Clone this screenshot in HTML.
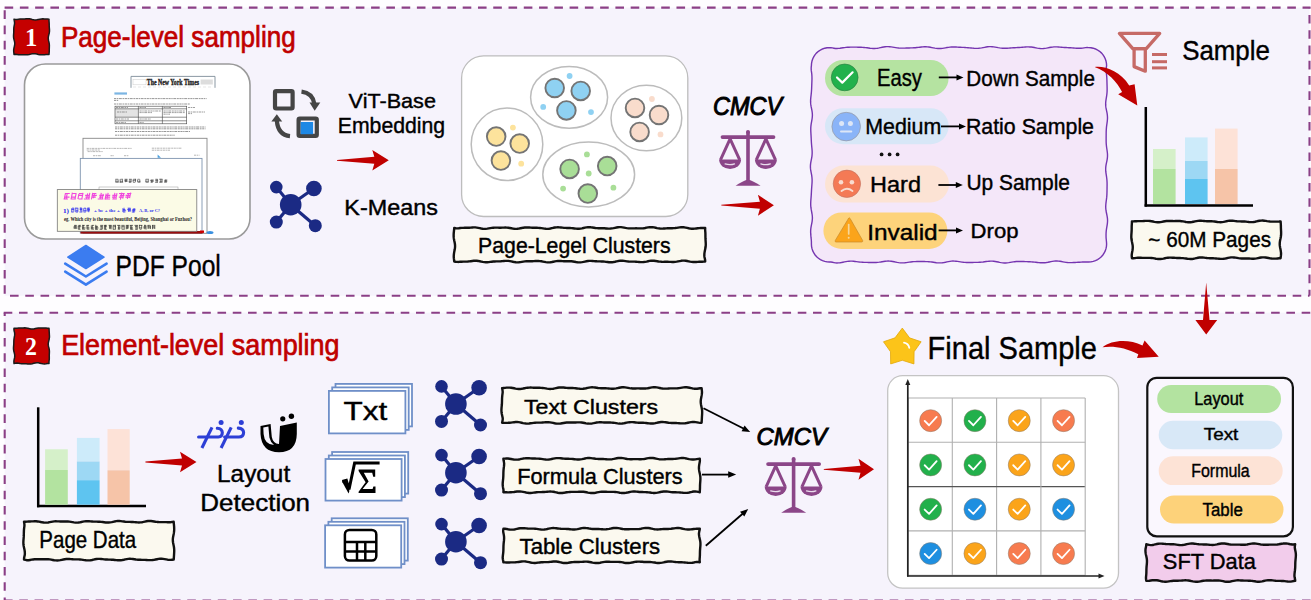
<!DOCTYPE html>
<html><head><meta charset="utf-8"><style>
html,body{margin:0;padding:0;background:#fcfbfe;}
body{width:1311px;height:600px;overflow:hidden;font-family:"Liberation Sans",sans-serif;}
svg{display:block;}
</style></head><body>
<svg width="1311" height="600" viewBox="0 0 1311 600">
<rect width="1311" height="600" fill="#fefdff"/>
<rect x="4.7" y="7.6" width="1304.8" height="288.1" fill="#f6f3fc"/>
<rect x="4.7" y="312.7" width="1310" height="290" fill="#f6f3fc"/>
<line x1="3.7" y1="7.6" x2="1310.5" y2="7.6" stroke="#8b3f86" stroke-width="2.1" stroke-dasharray="8.6 6.67" stroke-dashoffset="14.37"/>
<line x1="4.7" y1="7.6" x2="4.7" y2="295.7" stroke="#8b3f86" stroke-width="2.1" stroke-dasharray="8.6 6.67" stroke-dashoffset="12.57"/>
<line x1="1309.5" y1="7.6" x2="1309.5" y2="295.7" stroke="#8b3f86" stroke-width="2.1" stroke-dasharray="8.6 6.67" stroke-dashoffset="7.87"/>
<line x1="4.7" y1="295.7" x2="1309.5" y2="295.7" stroke="#8b3f86" stroke-width="2.1" stroke-dasharray="8.6 6.67" stroke-dashoffset="9.97"/>
<line x1="3.7" y1="312.7" x2="1311" y2="312.7" stroke="#8b3f86" stroke-width="2.1" stroke-dasharray="8.6 6.67" stroke-dashoffset="0.00"/>
<line x1="4.7" y1="312.7" x2="4.7" y2="600" stroke="#8b3f86" stroke-width="2.1" stroke-dasharray="8.6 6.67" stroke-dashoffset="5.30"/>
<line x1="3.7" y1="600.5" x2="1311" y2="600.5" stroke="#8b3f86" stroke-width="2.1" stroke-dasharray="8.6 6.67" stroke-dashoffset="14.97"/>
<path d="M14.00,19.20 L15.52,19.40 L17.04,19.39 L18.57,19.20 L20.09,19.06 L21.61,19.03 L23.13,19.01 L24.65,18.92 L26.17,18.77 L27.70,18.67 L29.22,18.74 L30.74,19.02 L32.26,19.43 L33.78,19.80 L35.30,19.96 L36.83,19.85 L38.35,19.53 L39.87,19.18 L41.39,18.94 L42.91,18.86 L44.43,18.89 L45.96,18.99 L47.48,19.08 L49.00,19.20 L48.98,20.73 L49.11,22.26 L49.20,23.79 L49.21,25.32 L49.25,26.85 L49.37,28.38 L49.48,29.91 L49.47,31.44 L49.26,32.97 L48.88,34.50 L48.49,36.03 L48.25,37.57 L48.29,39.10 L48.57,40.63 L48.95,42.16 L49.24,43.69 L49.37,45.22 L49.35,46.75 L49.29,48.28 L49.28,49.81 L49.25,51.34 L49.13,52.87 L49.00,54.40 L47.48,54.50 L45.96,54.59 L44.43,54.69 L42.91,54.79 L41.39,54.85 L39.87,54.77 L38.35,54.49 L36.83,54.10 L35.30,53.76 L33.78,53.63 L32.26,53.78 L30.74,54.13 L29.22,54.51 L27.70,54.76 L26.17,54.82 L24.65,54.76 L23.13,54.68 L21.61,54.67 L20.09,54.69 L18.57,54.66 L17.04,54.47 L15.52,54.32 L14.00,54.40 L13.87,52.87 L13.70,51.34 L13.67,49.81 L13.91,48.28 L14.28,46.75 L14.62,45.22 L14.77,43.69 L14.64,42.16 L14.28,40.63 L13.88,39.10 L13.60,37.57 L13.52,36.03 L13.59,34.50 L13.71,32.97 L13.77,31.44 L13.77,29.91 L13.80,28.38 L13.95,26.85 L14.23,25.32 L14.54,23.79 L14.55,22.26 L14.25,20.73 Z" fill="#c50000" stroke="#1a1a1a" stroke-width="1.5" stroke-linejoin="round"/>
<text x="24.93" y="46.30" font-family="Liberation Serif" font-weight="bold" font-size="24.17" fill="#fff" textLength="12.30" lengthAdjust="spacingAndGlyphs" >1</text>
<path d="M14.00,328.30 L15.52,328.28 L17.04,328.16 L18.57,328.09 L20.09,328.08 L21.61,328.01 L23.13,327.89 L24.65,327.81 L26.17,327.89 L27.70,328.16 L29.22,328.57 L30.74,328.92 L32.26,329.07 L33.78,328.93 L35.30,328.60 L36.83,328.24 L38.35,327.99 L39.87,327.92 L41.39,327.96 L42.91,328.02 L44.43,328.01 L45.96,328.05 L47.48,328.18 L49.00,328.30 L49.10,329.83 L49.19,331.36 L49.27,332.89 L49.35,334.42 L49.45,335.95 L49.43,337.48 L49.22,339.01 L48.85,340.54 L48.46,342.07 L48.24,343.60 L48.30,345.13 L48.60,346.67 L48.98,348.20 L49.29,349.73 L49.41,351.26 L49.38,352.79 L49.30,354.32 L49.27,355.85 L49.29,357.38 L49.29,358.91 L49.13,360.44 L48.96,361.97 L49.00,363.50 L47.48,363.61 L45.96,363.78 L44.43,363.91 L42.91,363.82 L41.39,363.55 L39.87,363.17 L38.35,362.84 L36.83,362.73 L35.30,362.90 L33.78,363.26 L32.26,363.65 L30.74,363.91 L29.22,363.96 L27.70,363.88 L26.17,363.78 L24.65,363.74 L23.13,363.74 L21.61,363.71 L20.09,363.55 L18.57,363.26 L17.04,363.08 L15.52,363.22 L14.00,363.50 L13.89,361.97 L13.96,360.44 L14.30,358.91 L14.63,357.38 L14.76,355.85 L14.62,354.32 L14.25,352.79 L13.84,351.26 L13.56,349.73 L13.48,348.20 L13.58,346.67 L13.71,345.13 L13.80,343.60 L13.82,342.07 L13.85,340.54 L13.99,339.01 L14.25,337.48 L14.54,335.95 L14.71,334.42 L14.63,332.89 L14.23,331.36 L13.95,329.83 Z" fill="#c50000" stroke="#1a1a1a" stroke-width="1.5" stroke-linejoin="round"/>
<text x="24.95" y="355.00" font-family="Liberation Serif" font-weight="bold" font-size="24.17" fill="#fff" textLength="11.90" lengthAdjust="spacingAndGlyphs" >2</text>
<text x="60.91" y="47.00" font-family="Liberation Sans" font-weight="normal" font-size="29.36" fill="#c00000" textLength="234.79" lengthAdjust="spacingAndGlyphs"  stroke="#c00000" stroke-width="0.7">Page-level sampling</text>
<text x="61.15" y="355.20" font-family="Liberation Sans" font-weight="normal" font-size="28.92" fill="#c00000" textLength="278.39" lengthAdjust="spacingAndGlyphs"  stroke="#c00000" stroke-width="0.7">Element-level sampling</text>
<rect x="24.5" y="64" width="225.5" height="175" rx="21" fill="#fff" stroke="#9a9a9a" stroke-width="1.6"/>
<path d="M131,87.8 L131,76.4 L215,76.4 L215,87.8" fill="#fff" stroke="#7d8c99" stroke-width="0.9"/>
<rect x="133" y="79.4" width="13" height="5.4" fill="none" stroke="#ccc" stroke-width="0.5"/>
<text x="146.8" y="84.9" font-family="Liberation Serif" font-weight="bold" font-size="8" fill="#222" textLength="52.2" lengthAdjust="spacingAndGlyphs" stroke="#222" stroke-width="0.35">The New York Times</text>
<rect x="200.6" y="79.5" width="12.2" height="5" fill="#ddd"/>
<line x1="133" y1="87" x2="213" y2="87" stroke="#ccc" stroke-width="0.5" stroke-dasharray="3 2"/>
<rect x="114.4" y="92.4" width="12.6" height="2.2" fill="#5aa2dc" opacity="0.8"/>
<line x1="114" y1="98.6" x2="206.6" y2="98.6" stroke="#8a8a8a" stroke-width="0.9" stroke-dasharray="2.2 0.6 1.4 0.6 3 0.7 1.8 0.6"/>
<line x1="114" y1="100.4" x2="118.5" y2="100.4" stroke="#8a8a8a" stroke-width="0.9" stroke-dasharray="2.2 0.6 1.4 0.6 3 0.7 1.8 0.6"/>
<line x1="114" y1="104" x2="190" y2="104" stroke="#8a8a8a" stroke-width="0.9" stroke-dasharray="2.2 0.6 1.4 0.6 3 0.7 1.8 0.6"/>
<rect x="115" y="108.8" width="23.4" height="8.4" fill="#e4e4e4"/>
<g stroke="#444" stroke-width="0.6" fill="none">
<rect x="115" y="106.2" width="71.7" height="17.6"/>
<line x1="115" y1="108.8" x2="186.7" y2="108.8"/>
<line x1="115" y1="117.2" x2="186.7" y2="117.2"/>
<line x1="115" y1="120.8" x2="186.7" y2="120.8"/>
<line x1="138.4" y1="106.2" x2="138.4" y2="123.8"/>
<line x1="162.4" y1="106.2" x2="162.4" y2="123.8"/>
</g>
<line x1="116" y1="107.5" x2="128" y2="107.5" stroke="#777" stroke-width="0.7" stroke-dasharray="2.2 0.6 1.4 0.6 3 0.7 1.8 0.6"/>
<line x1="139.5" y1="107.5" x2="146" y2="107.5" stroke="#777" stroke-width="0.7" stroke-dasharray="2.2 0.6 1.4 0.6 3 0.7 1.8 0.6"/>
<line x1="163.5" y1="107.5" x2="171" y2="107.5" stroke="#777" stroke-width="0.7" stroke-dasharray="2.2 0.6 1.4 0.6 3 0.7 1.8 0.6"/>
<line x1="188" y1="107.5" x2="195" y2="107.5" stroke="#777" stroke-width="0.7" stroke-dasharray="2.2 0.6 1.4 0.6 3 0.7 1.8 0.6"/>
<line x1="139.5" y1="111" x2="161" y2="111" stroke="#777" stroke-width="0.7" stroke-dasharray="2.2 0.6 1.4 0.6 3 0.7 1.8 0.6"/>
<line x1="139.5" y1="112.6" x2="152" y2="112.6" stroke="#777" stroke-width="0.7" stroke-dasharray="2.2 0.6 1.4 0.6 3 0.7 1.8 0.6"/>
<line x1="163.5" y1="111" x2="185" y2="111" stroke="#777" stroke-width="0.7" stroke-dasharray="2.2 0.6 1.4 0.6 3 0.7 1.8 0.6"/>
<line x1="163.5" y1="112.6" x2="185" y2="112.6" stroke="#777" stroke-width="0.7" stroke-dasharray="2.2 0.6 1.4 0.6 3 0.7 1.8 0.6"/>
<line x1="163.5" y1="114.2" x2="170" y2="114.2" stroke="#777" stroke-width="0.7" stroke-dasharray="2.2 0.6 1.4 0.6 3 0.7 1.8 0.6"/>
<line x1="117" y1="112" x2="127" y2="112" stroke="#777" stroke-width="0.7" stroke-dasharray="2.2 0.6 1.4 0.6 3 0.7 1.8 0.6"/>
<line x1="188" y1="112" x2="205" y2="112" stroke="#777" stroke-width="0.7" stroke-dasharray="2.2 0.6 1.4 0.6 3 0.7 1.8 0.6"/>
<line x1="188" y1="113.6" x2="192" y2="113.6" stroke="#777" stroke-width="0.7" stroke-dasharray="2.2 0.6 1.4 0.6 3 0.7 1.8 0.6"/>
<line x1="116" y1="119" x2="129" y2="119" stroke="#777" stroke-width="0.7" stroke-dasharray="2.2 0.6 1.4 0.6 3 0.7 1.8 0.6"/>
<line x1="139.5" y1="119" x2="151" y2="119" stroke="#777" stroke-width="0.7" stroke-dasharray="2.2 0.6 1.4 0.6 3 0.7 1.8 0.6"/>
<line x1="116" y1="122.4" x2="126" y2="122.4" stroke="#777" stroke-width="0.7" stroke-dasharray="2.2 0.6 1.4 0.6 3 0.7 1.8 0.6"/>
<line x1="139.5" y1="122.4" x2="144" y2="122.4" stroke="#777" stroke-width="0.7" stroke-dasharray="2.2 0.6 1.4 0.6 3 0.7 1.8 0.6"/>
<line x1="115" y1="127" x2="205.5" y2="127" stroke="#8a8a8a" stroke-width="0.9" stroke-dasharray="2.2 0.6 1.4 0.6 3 0.7 1.8 0.6"/>
<line x1="115" y1="128.8" x2="205.5" y2="128.8" stroke="#8a8a8a" stroke-width="0.9" stroke-dasharray="2.2 0.6 1.4 0.6 3 0.7 1.8 0.6"/>
<line x1="115" y1="131.5" x2="190" y2="131.5" stroke="#8a8a8a" stroke-width="0.9" stroke-dasharray="2.2 0.6 1.4 0.6 3 0.7 1.8 0.6"/>
<line x1="115" y1="135.2" x2="175" y2="135.2" stroke="#8a8a8a" stroke-width="0.9" stroke-dasharray="2.2 0.6 1.4 0.6 3 0.7 1.8 0.6"/>
<rect x="83" y="138.3" width="124" height="95" fill="#fff" stroke="#888" stroke-width="0.9"/>
<line x1="86.7" y1="148.4" x2="131.6" y2="148.4" stroke="#999" stroke-width="0.7" stroke-dasharray="2.2 0.6 1.4 0.6 3 0.7 1.8 0.6"/>
<line x1="86.7" y1="150" x2="100" y2="150" stroke="#999" stroke-width="0.7" stroke-dasharray="2.2 0.6 1.4 0.6 3 0.7 1.8 0.6"/>
<line x1="151.8" y1="148.2" x2="182" y2="148.2" stroke="#999" stroke-width="0.7" stroke-dasharray="2.2 0.6 1.4 0.6 3 0.7 1.8 0.6"/>
<line x1="87.6" y1="151.6" x2="103" y2="151.6" stroke="#999" stroke-width="0.7" stroke-dasharray="2.2 0.6 1.4 0.6 3 0.7 1.8 0.6"/>
<line x1="93" y1="155.7" x2="101" y2="155.7" stroke="#999" stroke-width="0.7" stroke-dasharray="2.2 0.6 1.4 0.6 3 0.7 1.8 0.6"/>
<line x1="110.5" y1="155.7" x2="114" y2="155.7" stroke="#999" stroke-width="0.7" stroke-dasharray="2.2 0.6 1.4 0.6 3 0.7 1.8 0.6"/>
<line x1="124" y1="155.7" x2="129" y2="155.7" stroke="#999" stroke-width="0.7" stroke-dasharray="2.2 0.6 1.4 0.6 3 0.7 1.8 0.6"/>
<line x1="194" y1="155.2" x2="199.5" y2="155.2" stroke="#999" stroke-width="0.7" stroke-dasharray="2.2 0.6 1.4 0.6 3 0.7 1.8 0.6"/>
<line x1="151.8" y1="150.2" x2="170" y2="150.2" stroke="#999" stroke-width="0.7" stroke-dasharray="2.2 0.6 1.4 0.6 3 0.7 1.8 0.6"/>
<path d="M157.6,154.6 L157.6,157.8 L161,157.8 Z" fill="#4aa0e0"/>
<rect x="80.3" y="158.4" width="121.7" height="74.5" fill="#fff" stroke="#7f95b0" stroke-width="0.9"/>
<path d="M115.38,179.26L118.23,179.26M115.40,182.30L118.62,182.30M115.43,181.27L118.45,181.27M115.83,179.49L115.83,181.89M118.13,179.44L118.13,182.13M120.02,181.27L122.83,181.27M120.44,179.26L123.03,179.26M119.78,182.30L123.14,182.30M122.46,179.47L122.46,182.05M120.16,179.12L120.16,182.54M124.51,181.27L127.40,181.27M124.27,180.32L127.20,180.32M124.53,179.26L127.48,179.26M125.56,179.46L125.56,182.18M126.79,179.21L126.79,182.01M128.84,182.30L131.36,182.30M128.60,181.27L131.36,181.27M128.92,179.26L131.78,179.26M129.89,179.22L129.89,182.54M131.13,179.33L131.13,181.91M133.19,179.26L136.08,179.26M132.93,182.30L135.29,182.30M132.84,180.32L136.06,180.32M133.16,179.52L133.16,182.00M135.46,178.92L135.46,182.04M137.73,181.27L140.41,181.27M137.68,179.26L139.67,179.26M137.64,182.30L140.37,182.30M139.79,179.41L139.79,182.06M137.50,179.55L137.50,181.86" stroke="#333" stroke-width="0.7" opacity="0.85" fill="none"/>
<path d="M145.65,182.30L148.30,182.30M145.54,181.27L148.40,181.27M146.13,179.26L148.96,179.26M148.34,179.55L148.34,182.43M145.87,178.89L145.87,182.00M150.70,181.27L153.38,181.27M150.64,182.30L152.83,182.30M149.92,180.32L153.35,180.32M151.61,179.45L151.61,182.35M152.94,179.27L152.94,181.97M155.10,182.30L157.75,182.30M155.33,179.26L157.63,179.26M155.27,180.32L158.10,180.32M157.54,179.26L157.54,182.56M156.21,179.54L156.21,182.33M159.10,179.26L162.36,179.26M159.21,182.30L162.60,182.30M159.64,181.27L162.22,181.27M162.14,178.91L162.14,181.87M160.81,178.81L160.81,182.48M164.16,182.30L166.81,182.30M164.30,180.32L166.65,180.32M164.05,181.27L166.80,181.27M166.74,179.38L166.74,182.12M165.41,179.35L165.41,182.04" stroke="#333" stroke-width="0.7" opacity="0.85" fill="none"/>
<rect x="99" y="187" width="79" height="4" fill="none" stroke="#999" stroke-width="0.5"/>
<rect x="80.5" y="231" width="122" height="2.6" fill="#9a0d0d"/>
<rect x="200" y="230.5" width="4" height="2.4" fill="#c00"/>
<ellipse cx="210" cy="232.5" rx="3.5" ry="1.6" fill="#3a90e0"/>
<rect x="57.3" y="189.6" width="139.5" height="41.7" fill="#fbfbe6" stroke="#777" stroke-width="0.8"/>
<path d="M65.59,193.44L69.76,193.44M63.61,199.04L67.95,199.04M64.11,197.15L69.47,197.15M67.26,193.30L66.18,198.72M65.50,193.12L64.39,198.66M72.49,193.44L76.58,193.44M70.60,199.04L75.81,199.04M71.37,197.15L75.33,197.15M72.39,192.64L71.16,198.81M76.06,193.81L74.98,199.22M78.47,199.04L82.59,199.04M78.02,195.40L83.02,195.40M78.97,193.44L83.02,193.44M83.05,192.83L81.87,198.74M78.93,193.96L77.92,198.99M85.18,195.40L89.18,195.40M83.87,199.04L89.75,199.04M85.39,197.15L89.91,197.15M87.65,193.34L86.50,199.10M89.83,192.94L88.65,198.84M92.75,195.40L96.82,195.40M92.07,197.15L95.78,197.15M92.49,193.44L96.38,193.44M94.47,193.27L93.47,198.24M92.73,192.97L91.46,199.31M99.16,197.15L103.00,197.15M97.78,199.04L103.33,199.04M99.35,195.40L103.93,195.40M101.32,192.98L100.19,198.63M103.26,193.81L102.19,199.13M106.03,195.40L110.17,195.40M105.23,197.15L110.08,197.15M105.12,199.04L110.08,199.04M108.13,192.97L107.04,198.38M106.19,193.63L105.01,199.54M112.33,199.04L116.79,199.04M112.34,195.40L117.21,195.40M111.98,197.15L115.99,197.15M117.00,193.10L115.94,198.40M114.92,192.98L113.77,198.77M118.87,197.15L123.70,197.15M119.84,195.40L124.37,195.40M119.01,193.44L124.67,193.44M121.79,192.63L120.42,199.52M123.74,193.42L122.71,198.53M127.04,193.44L131.34,193.44M125.62,195.40L130.32,195.40M125.34,197.15L129.71,197.15M130.69,192.66L129.58,198.20M128.36,193.78L127.36,198.79" stroke="#ee33dd" stroke-width="1.1" opacity="0.9" fill="none"/>
<text x="63" y="212.5" font-family="Liberation Serif" font-weight="bold" font-size="5.2" fill="#2222ee" textLength="6" lengthAdjust="spacingAndGlyphs">1)</text>
<path d="M71.42,212.02L73.75,212.02M71.46,209.52L73.98,209.52M72.00,208.18L74.18,208.18M73.86,208.31L73.86,211.71M71.78,208.13L71.78,212.19M75.81,212.02L78.01,212.02M75.39,208.18L78.23,208.18M75.81,210.72L77.91,210.72M75.78,207.65L75.78,212.11M77.86,208.28L77.86,211.81M79.70,209.52L82.03,209.52M79.66,208.18L81.90,208.18M79.43,212.02L82.38,212.02M80.74,207.64L80.74,211.45M81.86,207.94L81.86,211.73M83.51,212.02L85.80,212.02M83.86,208.18L85.89,208.18M83.61,210.72L86.50,210.72M83.78,208.24L83.78,211.48M85.86,208.05L85.86,211.59M87.39,209.52L90.03,209.52M87.86,210.72L89.85,210.72M87.39,208.18L89.91,208.18M87.78,207.83L87.78,211.55M88.74,207.75L88.74,212.22" stroke="#3333ee" stroke-width="0.9" opacity="0.9" fill="none"/>
<text x="94" y="212.3" font-family="Liberation Serif" font-weight="bold" font-size="5" fill="#3333ee" textLength="26" lengthAdjust="spacingAndGlyphs">+ be + the +</text>
<path d="M122.92,212.02L125.38,212.02M123.00,209.52L125.39,209.52M123.15,210.72L126.08,210.72M122.88,208.27L122.88,211.93M124.04,207.75L124.04,211.59M127.25,209.52L130.74,209.52M127.85,210.72L130.74,210.72M127.67,208.18L130.54,208.18M128.71,208.30L128.71,211.95M130.06,208.01L130.06,211.75M131.83,212.02L134.77,212.02M132.39,209.52L135.34,209.52M131.84,210.72L135.12,210.72M133.37,208.34L133.37,212.34M134.73,208.09L134.73,211.53" stroke="#3333ee" stroke-width="0.9" opacity="0.9" fill="none"/>
<text x="139" y="212.3" font-family="Liberation Serif" font-weight="bold" font-size="5" fill="#3333ee" textLength="21" lengthAdjust="spacingAndGlyphs">A, B, or C?</text>
<text x="64" y="221.3" font-family="Liberation Serif" font-weight="bold" font-size="5.2" fill="#222" textLength="128" lengthAdjust="spacingAndGlyphs">eg.  Which city is the most beautiful, Beijing, Shanghai or Fuzhou?</text>
<path d="M73.31,227.92L76.54,227.92M74.11,225.38L76.39,225.38M73.57,226.72L76.37,226.72M74.91,225.31L74.91,229.01M76.15,224.93L76.15,229.02M78.34,226.72L81.19,226.72M78.44,225.38L80.95,225.38M78.11,229.22L80.59,229.22M78.20,225.66L78.20,229.07M79.27,225.10L79.27,229.22M82.46,229.22L85.13,229.22M82.65,225.38L84.76,225.38M82.18,227.92L85.53,227.92M83.64,225.03L83.64,228.72M82.57,224.86L82.57,229.43M86.60,225.38L89.10,225.38M86.81,227.92L89.47,227.92M86.77,229.22L89.40,229.22M88.01,225.19L88.01,228.85M86.94,225.03L86.94,228.80M91.65,225.38L94.10,225.38M91.00,227.92L94.22,227.92M91.52,229.22L93.98,229.22M91.31,225.55L91.31,229.36M92.38,225.27L92.38,228.83M95.27,227.92L98.55,227.92M95.32,226.72L98.03,226.72M95.22,229.22L98.10,229.22M96.75,225.54L96.75,229.55M95.68,224.81L95.68,229.51M100.31,226.72L102.26,226.72M100.20,225.38L103.07,225.38M99.61,229.22L102.22,229.22M102.37,225.69L102.37,229.32M101.12,225.65L101.12,229.57M104.47,226.72L107.01,226.72M104.58,229.22L106.93,229.22M103.91,225.38L106.93,225.38M105.48,224.91L105.48,229.45M104.41,225.37L104.41,229.50M108.95,226.72L111.47,226.72M108.61,225.38L111.49,225.38M108.94,227.92L111.06,227.92M111.10,224.97L111.10,229.30M109.85,224.96L109.85,229.11M112.93,229.22L115.47,229.22M112.91,225.38L115.44,225.38M113.41,226.72L116.01,226.72M113.15,225.47L113.15,229.42M115.47,224.80L115.47,229.43M117.12,225.38L120.15,225.38M117.78,229.22L120.01,229.22M117.78,227.92L119.86,227.92M118.59,225.29L118.59,229.05M119.84,225.29L119.84,228.94M121.92,226.72L124.20,226.72M121.69,229.22L124.79,229.22M121.45,225.38L124.49,225.38M121.89,225.68L121.89,228.81M124.21,225.61L124.21,228.82M126.58,226.72L129.08,226.72M125.89,225.38L129.28,225.38M126.24,227.92L128.99,227.92M126.26,225.57L126.26,229.31M127.33,224.98L127.33,229.10M130.42,229.22L133.23,229.22M130.21,225.38L132.98,225.38M130.17,227.92L132.99,227.92M131.70,225.46L131.70,229.43M130.62,225.02L130.62,229.51M135.24,229.22L137.47,229.22M135.06,226.72L137.30,226.72M134.49,225.38L137.83,225.38M137.31,225.29L137.31,229.57M136.06,225.35L136.06,229.51M139.05,225.38L142.31,225.38M139.66,229.22L141.55,229.22M139.19,227.92L141.75,227.92M141.68,225.07L141.68,228.75M139.36,224.85L139.36,228.68M143.56,226.72L145.94,226.72M144.08,225.38L145.94,225.38M143.21,227.92L145.96,227.92M144.80,224.85L144.80,229.26M146.05,225.44L146.05,229.59M147.67,226.72L150.82,226.72M148.14,227.92L150.64,227.92M147.57,225.38L150.53,225.38M150.42,225.65L150.42,229.00M148.10,225.15L148.10,228.89M152.07,225.38L155.22,225.38M152.22,227.92L154.96,227.92M152.38,226.72L154.69,226.72M152.47,224.99L152.47,229.19M154.79,225.58L154.79,228.94" stroke="#222" stroke-width="0.75" opacity="0.85" fill="none"/>
<path d="M85.9,245.5 L104,257.2 L85.9,268.5 L67.8,257.2 Z" fill="#3b7cf0" stroke="#3b7cf0" stroke-width="1.5" stroke-linejoin="round"/>
<path d="M65.2,263.6 L85.9,276.5 L106.6,263.6" fill="none" stroke="#3b7cf0" stroke-width="2.6" stroke-linecap="round" stroke-linejoin="round"/>
<path d="M65.2,271.6 L85.9,284.6 L106.6,271.6" fill="none" stroke="#3b7cf0" stroke-width="2.6" stroke-linecap="round" stroke-linejoin="round"/>
<text x="115.53" y="276.40" font-family="Liberation Sans" font-weight="normal" font-size="28.92" fill="#000" textLength="105.28" lengthAdjust="spacingAndGlyphs"  stroke="#000" stroke-width="0.4">PDF Pool</text>
<g stroke="#454545" fill="none" stroke-width="4.2">
<rect x="275" y="91.2" width="17.6" height="17.3" rx="1.2"/>
<rect x="298.6" y="118.5" width="18.2" height="17.4" rx="1.2"/>
<path d="M301.5,91.6 Q312.5,93 314.3,103.5"/>
<path d="M290,136.2 Q278,135 276.8,120.5"/>
</g>
<rect x="300.7" y="122" width="12.4" height="12.2" fill="#1e88e5"/>
<path d="M309.5,102.5 L320.3,102.5 L314.7,110.8 Z" fill="#454545"/>
<path d="M271.4,121.6 L282.2,121.6 L276.8,114.2 Z" fill="#454545"/>
<text x="348.64" y="108.00" font-family="Liberation Sans" font-weight="normal" font-size="20.78" fill="#000" textLength="87.32" lengthAdjust="spacingAndGlyphs"  stroke="#000" stroke-width="0.4">ViT-Base</text>
<text x="337.80" y="133.00" font-family="Liberation Sans" font-weight="normal" font-size="22.09" fill="#000" textLength="107.31" lengthAdjust="spacingAndGlyphs"  stroke="#000" stroke-width="0.4">Embedding</text>
<path d="M337.00,160.70 L374.30,163.80 L372.30,170.55 L388.80,160.30 L372.30,150.05 L374.30,156.80 L337.00,159.90 Z" fill="#c00000"/>
<line x1="290.7" y1="204.7" x2="276.30" y2="187.10" stroke="#1b2a84" stroke-width="3.2"/>
<line x1="290.7" y1="204.7" x2="313.90" y2="188.50" stroke="#1b2a84" stroke-width="3.2"/>
<line x1="290.7" y1="204.7" x2="276.30" y2="222.10" stroke="#1b2a84" stroke-width="3.2"/>
<line x1="290.7" y1="204.7" x2="315.30" y2="225.70" stroke="#1b2a84" stroke-width="3.2"/>
<circle cx="290.7" cy="204.7" r="10.8" fill="#1b2a84"/>
<circle cx="276.30" cy="187.10" r="6.3" fill="#1b2a84"/>
<circle cx="313.90" cy="188.50" r="7.8" fill="#1b2a84"/>
<circle cx="276.30" cy="222.10" r="6.5" fill="#1b2a84"/>
<circle cx="315.30" cy="225.70" r="6.5" fill="#1b2a84"/>
<text x="344.38" y="214.50" font-family="Liberation Sans" font-weight="normal" font-size="21.80" fill="#000" textLength="93.47" lengthAdjust="spacingAndGlyphs"  stroke="#000" stroke-width="0.4">K-Means</text>
<rect x="461.6" y="55.9" width="226.2" height="160.6" rx="22" fill="#fff" stroke="#bdbdbd" stroke-width="1.3"/>
<ellipse cx="569.1" cy="97.3" rx="38.5" ry="30.9" fill="#fff" stroke="#bcbcbc" stroke-width="1.5"/>
<circle cx="569.6" cy="76" r="2.9" fill="#8fd1f2"/>
<circle cx="543.2" cy="106.9" r="2.9" fill="#8fd1f2"/>
<circle cx="591" cy="112.1" r="2.9" fill="#8fd1f2"/>
<circle cx="554.7" cy="88" r="9.3" fill="#8fd1f2" stroke="#747474" stroke-width="1.9"/>
<circle cx="580.7" cy="90.9" r="9.3" fill="#8fd1f2" stroke="#747474" stroke-width="1.9"/>
<circle cx="566.4" cy="110.4" r="9.3" fill="#8fd1f2" stroke="#747474" stroke-width="1.9"/>
<ellipse cx="646.4" cy="118" rx="35.4" ry="32.8" fill="#fff" stroke="#bcbcbc" stroke-width="1.5"/>
<circle cx="651.9" cy="99" r="2.9" fill="#f9dccc"/>
<circle cx="660.5" cy="134.4" r="2.9" fill="#f9dccc"/>
<circle cx="635" cy="107.9" r="9.3" fill="#f9dccc" stroke="#747474" stroke-width="1.9"/>
<circle cx="659" cy="115" r="9.3" fill="#f9dccc" stroke="#747474" stroke-width="1.9"/>
<circle cx="639.6" cy="131.9" r="9.3" fill="#f9dccc" stroke="#747474" stroke-width="1.9"/>
<ellipse cx="507" cy="144.3" rx="35.8" ry="36.2" fill="#fff" stroke="#bcbcbc" stroke-width="1.5"/>
<circle cx="512.9" cy="127.6" r="2.9" fill="#fde39c"/>
<circle cx="521.2" cy="163.7" r="2.9" fill="#fde39c"/>
<circle cx="496.2" cy="136.6" r="9.3" fill="#fde39c" stroke="#747474" stroke-width="1.9"/>
<circle cx="519.7" cy="143.6" r="9.3" fill="#fde39c" stroke="#747474" stroke-width="1.9"/>
<circle cx="500.9" cy="160.6" r="9.3" fill="#fde39c" stroke="#747474" stroke-width="1.9"/>
<ellipse cx="588.7" cy="174.5" rx="45.9" ry="32.4" fill="#fff" stroke="#bcbcbc" stroke-width="1.5"/>
<circle cx="586.9" cy="154.4" r="2.9" fill="#a9de97"/>
<circle cx="588.7" cy="173.5" r="2.9" fill="#a9de97"/>
<circle cx="563.1" cy="188.6" r="2.9" fill="#a9de97"/>
<circle cx="613.4" cy="187.7" r="2.9" fill="#a9de97"/>
<circle cx="569.6" cy="168.9" r="9.3" fill="#a9de97" stroke="#747474" stroke-width="1.9"/>
<circle cx="607.2" cy="166.1" r="9.3" fill="#a9de97" stroke="#747474" stroke-width="1.9"/>
<circle cx="587.8" cy="193.6" r="9.3" fill="#a9de97" stroke="#747474" stroke-width="1.9"/>
<path d="M454.20,228.00 L455.70,228.26 L457.21,228.37 L458.71,228.26 L460.21,228.05 L461.71,227.91 L463.22,227.84 L464.72,227.81 L466.22,227.80 L467.73,227.77 L469.23,227.69 L470.73,227.58 L472.24,227.46 L473.74,227.40 L475.24,227.42 L476.74,227.57 L478.25,227.82 L479.75,228.14 L481.25,228.47 L482.76,228.73 L484.26,228.86 L485.76,228.84 L487.27,228.68 L488.77,228.42 L490.27,228.13 L491.77,227.88 L493.28,227.70 L494.78,227.62 L496.28,227.62 L497.79,227.65 L499.29,227.68 L500.79,227.68 L502.30,227.64 L503.80,227.59 L505.30,227.57 L506.80,227.62 L508.31,227.76 L509.81,228.00 L511.31,228.29 L512.82,228.57 L514.32,228.79 L515.82,228.88 L517.33,228.81 L518.83,228.60 L520.33,228.30 L521.83,227.97 L523.34,227.69 L524.84,227.50 L526.34,227.43 L527.85,227.46 L529.35,227.55 L530.85,227.65 L532.36,227.72 L533.86,227.76 L535.36,227.76 L536.86,227.77 L538.37,227.83 L539.87,227.95 L541.37,228.15 L542.88,228.39 L544.38,228.62 L545.88,228.79 L547.39,228.83 L548.89,228.72 L550.39,228.47 L551.89,228.14 L553.40,227.80 L554.90,227.51 L556.40,227.33 L557.91,227.29 L559.41,227.36 L560.91,227.51 L562.42,227.68 L563.92,227.83 L565.42,227.92 L566.92,227.97 L568.43,227.99 L569.93,228.03 L571.43,228.12 L572.94,228.26 L574.44,228.44 L575.94,228.61 L577.45,228.72 L578.95,228.71 L580.45,228.57 L581.95,228.31 L583.46,227.97 L584.96,227.63 L586.46,227.36 L587.97,227.20 L589.47,227.20 L590.97,227.32 L592.48,227.53 L593.98,227.77 L595.48,227.98 L596.98,228.12 L598.49,228.19 L599.99,228.21 L601.49,228.22 L603.00,228.25 L604.50,228.32 L606.00,228.43 L607.51,228.54 L609.01,228.59 L610.51,228.55 L612.01,228.40 L613.52,228.14 L615.02,227.81 L616.52,227.49 L618.03,227.25 L619.53,227.13 L621.03,227.17 L622.54,227.35 L624.04,227.62 L625.54,227.91 L627.04,228.16 L628.55,228.33 L630.05,228.40 L631.55,228.40 L633.06,228.36 L634.56,228.33 L636.06,228.32 L637.57,228.36 L639.07,228.40 L640.57,228.42 L642.07,228.36 L643.58,228.21 L645.08,227.97 L646.58,227.67 L648.09,227.40 L649.59,227.19 L651.09,227.13 L652.60,227.21 L654.10,227.43 L655.60,227.74 L657.10,228.07 L658.61,228.35 L660.11,228.52 L661.61,228.58 L663.12,228.54 L664.62,228.45 L666.12,228.34 L667.63,228.26 L669.13,228.23 L670.63,228.22 L672.13,228.21 L673.64,228.15 L675.14,228.02 L676.64,227.82 L678.15,227.58 L679.65,227.36 L681.15,227.21 L682.66,227.19 L684.16,227.31 L685.66,227.57 L687.16,227.90 L688.67,228.25 L690.17,228.53 L691.67,228.69 L693.18,228.72 L694.68,228.63 L696.18,228.47 L697.69,228.30 L699.19,228.15 L700.69,228.06 L702.19,228.01 L703.70,228.00 L705.20,228.00 L705.14,229.52 L705.23,231.05 L705.37,232.57 L705.42,234.09 L705.43,235.61 L705.44,237.14 L705.48,238.66 L705.56,240.18 L705.66,241.70 L705.75,243.23 L705.77,244.75 L705.68,246.27 L705.48,247.80 L705.18,249.32 L704.85,250.84 L704.56,252.36 L704.37,253.89 L704.33,255.41 L704.45,256.93 L704.81,258.45 L705.12,259.98 L705.20,261.50 L703.70,261.61 L702.19,261.72 L700.69,261.78 L699.19,261.82 L697.69,261.88 L696.18,261.96 L694.68,262.02 L693.18,261.99 L691.67,261.87 L690.17,261.64 L688.67,261.34 L687.16,261.02 L685.66,260.77 L684.16,260.63 L682.66,260.65 L681.15,260.81 L679.65,261.08 L678.15,261.39 L676.64,261.67 L675.14,261.88 L673.64,261.97 L672.13,261.98 L670.63,261.92 L669.13,261.86 L667.63,261.81 L666.12,261.80 L664.62,261.82 L663.12,261.83 L661.61,261.79 L660.11,261.67 L658.61,261.47 L657.10,261.21 L655.60,260.94 L654.10,260.73 L652.60,260.64 L651.09,260.70 L649.59,260.91 L648.09,261.21 L646.58,261.56 L645.08,261.86 L643.58,262.06 L642.07,262.15 L640.57,262.12 L639.07,262.01 L637.57,261.87 L636.06,261.75 L634.56,261.67 L633.06,261.64 L631.55,261.62 L630.05,261.58 L628.55,261.48 L627.04,261.32 L625.54,261.12 L624.04,260.91 L622.54,260.76 L621.03,260.72 L619.53,260.82 L618.03,261.05 L616.52,261.38 L615.02,261.73 L613.52,262.03 L612.01,262.22 L610.51,262.27 L609.01,262.19 L607.51,262.02 L606.00,261.82 L604.50,261.63 L603.00,261.50 L601.49,261.43 L599.99,261.40 L598.49,261.37 L596.98,261.32 L595.48,261.22 L593.98,261.08 L592.48,260.94 L590.97,260.85 L589.47,260.85 L587.97,260.98 L586.46,261.22 L584.96,261.55 L583.46,261.89 L581.95,262.17 L580.45,262.33 L578.95,262.34 L577.45,262.21 L575.94,261.98 L574.44,261.71 L572.94,261.47 L571.43,261.30 L569.93,261.21 L568.43,261.19 L566.92,261.20 L565.42,261.21 L563.92,261.18 L562.42,261.11 L560.91,261.04 L559.41,261.00 L557.91,261.03 L556.40,261.16 L554.90,261.40 L553.40,261.70 L551.89,262.01 L550.39,262.25 L548.89,262.37 L547.39,262.34 L545.88,262.16 L544.38,261.88 L542.88,261.57 L541.37,261.29 L539.87,261.09 L538.37,261.01 L536.86,261.01 L535.36,261.07 L533.86,261.15 L532.36,261.19 L530.85,261.20 L529.35,261.19 L527.85,261.19 L526.34,261.23 L524.84,261.36 L523.34,261.57 L521.83,261.83 L520.33,262.09 L518.83,262.28 L517.33,262.35 L515.82,262.28 L514.32,262.06 L512.82,261.74 L511.31,261.40 L509.81,261.10 L508.31,260.91 L506.80,260.84 L505.30,260.88 L503.80,261.00 L502.30,261.15 L500.79,261.27 L499.29,261.35 L497.79,261.38 L496.28,261.40 L494.78,261.45 L493.28,261.54 L491.77,261.70 L490.27,261.91 L488.77,262.11 L487.27,262.25 L485.76,262.27 L484.26,262.15 L482.76,261.91 L481.25,261.58 L479.75,261.23 L478.25,260.94 L476.74,260.76 L475.24,260.72 L473.74,260.81 L472.24,261.00 L470.73,261.21 L469.23,261.40 L467.73,261.53 L466.22,261.60 L464.72,261.62 L463.22,261.64 L461.71,261.70 L460.21,261.79 L458.71,261.93 L457.21,261.92 L455.70,261.74 L454.20,261.50 L454.06,259.98 L453.88,258.45 L453.75,256.93 L453.79,255.41 L453.93,253.89 L454.16,252.36 L454.46,250.84 L454.76,249.32 L454.98,247.80 L455.08,246.27 L455.01,244.75 L454.80,243.23 L454.50,241.70 L454.17,240.18 L453.89,238.66 L453.71,237.14 L453.65,235.61 L453.68,234.09 L453.77,232.57 L453.94,231.05 L454.09,229.52 Z" fill="#fbf9ef" stroke="#111" stroke-width="2.4" stroke-linejoin="round"/>
<text x="478.10" y="252.70" font-family="Liberation Sans" font-weight="normal" font-size="21.66" fill="#000" textLength="192.46" lengthAdjust="spacingAndGlyphs"  stroke="#000" stroke-width="0.4">Page-Legel Clusters</text>
<text x="713.01" y="115.30" font-family="Liberation Sans" font-weight="normal" font-size="25.44" fill="#000" textLength="69.12" lengthAdjust="spacingAndGlyphs"  stroke="#000" stroke-width="1.0" font-style="italic">CMCV</text>
<g fill="#8b4688" stroke="none">
<circle cx="748" cy="131.9" r="2"/>
<rect x="746.2" y="131.9" width="3.6" height="50"/>
<rect x="720.6" y="135.20000000000002" width="54.8" height="3.8" rx="1.9"/>
<path d="M735.6,185.7 Q742,181.4 746.2,179.9 L749.8,179.9 Q754,181.4 760.6,185.7 Z"/>
</g>
<path d="M720.5,159.9 L730.1,138.9 L739.7,159.9" fill="none" stroke="#8b4688" stroke-width="3" stroke-linejoin="round"/>
<path d="M719.1,159.5 L741.1,159.5 A11,9.4 0 0 1 719.1,159.5 Z" fill="#8b4688"/>
<path d="M725.1,163.9 Q730.1,165.5 734.5,163.9" fill="none" stroke="#e9dcec" stroke-width="1.3" stroke-linecap="round"/>
<path d="M756.3,159.9 L765.9,138.9 L775.5,159.9" fill="none" stroke="#8b4688" stroke-width="3" stroke-linejoin="round"/>
<path d="M754.9,159.5 L776.9,159.5 A11,9.4 0 0 1 754.9,159.5 Z" fill="#8b4688"/>
<path d="M760.9,163.9 Q765.9,165.5 770.3,163.9" fill="none" stroke="#e9dcec" stroke-width="1.3" stroke-linecap="round"/>
<path d="M721.30,205.60 L759.90,208.70 L757.90,215.70 L773.90,205.20 L757.90,194.70 L759.90,201.70 L721.30,204.80 Z" fill="#c00000"/>
<path d="M829.40,47.60 L830.91,47.68 L832.41,47.90 L833.92,48.20 L835.43,48.51 L836.93,48.51 L838.44,48.42 L839.95,48.25 L841.46,48.04 L842.96,47.80 L844.47,47.58 L845.98,47.40 L847.48,47.26 L848.99,47.18 L850.50,47.13 L852.00,47.13 L853.51,47.13 L855.02,47.15 L856.53,47.16 L858.03,47.18 L859.54,47.21 L861.05,47.25 L862.55,47.33 L864.06,47.45 L865.57,47.61 L867.07,47.81 L868.58,48.02 L870.09,48.22 L871.60,48.38 L873.10,48.47 L874.61,48.48 L876.12,48.38 L877.62,48.19 L879.13,47.93 L880.64,47.62 L882.14,47.30 L883.65,47.01 L885.16,46.80 L886.67,46.67 L888.17,46.65 L889.68,46.74 L891.19,46.91 L892.69,47.14 L894.20,47.39 L895.71,47.63 L897.21,47.84 L898.72,48.00 L900.23,48.10 L901.73,48.14 L903.24,48.13 L904.75,48.10 L906.26,48.06 L907.76,48.01 L909.27,47.97 L910.78,47.92 L912.28,47.87 L913.79,47.79 L915.30,47.69 L916.80,47.55 L918.31,47.39 L919.82,47.20 L921.33,47.02 L922.83,46.87 L924.34,46.78 L925.85,46.77 L927.35,46.84 L928.86,47.02 L930.37,47.26 L931.87,47.57 L933.38,47.88 L934.89,48.17 L936.40,48.40 L937.90,48.54 L939.41,48.57 L940.92,48.50 L942.42,48.33 L943.93,48.09 L945.44,47.82 L946.94,47.56 L948.45,47.32 L949.96,47.15 L951.47,47.04 L952.97,46.99 L954.48,47.00 L955.99,47.05 L957.49,47.13 L959.00,47.20 L960.51,47.28 L962.01,47.34 L963.52,47.41 L965.03,47.48 L966.53,47.58 L968.04,47.69 L969.55,47.83 L971.06,47.99 L972.56,48.14 L974.07,48.28 L975.58,48.37 L977.08,48.38 L978.59,48.32 L980.10,48.17 L981.60,47.93 L983.11,47.65 L984.62,47.34 L986.13,47.05 L987.63,46.81 L989.14,46.66 L990.65,46.61 L992.15,46.68 L993.66,46.84 L995.17,47.08 L996.67,47.36 L998.18,47.65 L999.69,47.90 L1001.20,48.10 L1002.70,48.22 L1004.21,48.28 L1005.72,48.26 L1007.22,48.19 L1008.73,48.10 L1010.24,47.99 L1011.74,47.89 L1013.25,47.79 L1014.76,47.71 L1016.27,47.63 L1017.77,47.55 L1019.28,47.46 L1020.79,47.35 L1022.29,47.22 L1023.80,47.09 L1025.31,46.97 L1026.81,46.89 L1028.32,46.87 L1029.83,46.93 L1031.33,47.06 L1032.84,47.27 L1034.35,47.54 L1035.86,47.84 L1037.36,48.13 L1038.87,48.37 L1040.38,48.53 L1041.88,48.59 L1043.39,48.54 L1044.90,48.38 L1046.40,48.15 L1047.91,47.86 L1049.42,47.56 L1050.93,47.29 L1052.43,47.07 L1053.94,46.92 L1055.45,46.86 L1056.95,46.88 L1058.46,46.96 L1059.97,47.08 L1061.47,47.21 L1062.98,47.34 L1064.49,47.46 L1066.00,47.56 L1067.50,47.65 L1069.01,47.72 L1070.52,47.80 L1072.02,47.89 L1073.53,47.98 L1075.04,48.09 L1076.54,48.18 L1078.05,48.25 L1079.56,48.26 L1081.07,48.22 L1082.57,48.10 L1084.08,47.83 L1085.59,47.63 L1087.09,47.54 L1088.60,47.60 L1088.60,47.60 L1090.95,47.75 L1093.26,48.21 L1095.49,48.97 L1097.60,50.01 L1099.56,51.32 L1101.33,52.87 L1102.88,54.64 L1104.19,56.60 L1105.23,58.71 L1105.99,60.94 L1106.45,63.25 L1106.60,65.60 L1106.60,65.60 L1106.39,67.11 L1106.22,68.62 L1106.14,70.14 L1106.18,71.65 L1106.37,73.16 L1106.54,74.67 L1106.69,76.18 L1106.80,77.69 L1106.88,79.21 L1106.93,80.72 L1106.97,82.23 L1107.01,83.74 L1107.05,85.25 L1107.09,86.77 L1107.12,88.28 L1107.12,89.79 L1107.09,91.30 L1107.00,92.81 L1106.85,94.33 L1106.64,95.84 L1106.41,97.35 L1106.16,98.86 L1105.93,100.37 L1105.75,101.88 L1105.66,103.40 L1105.67,104.91 L1105.79,106.42 L1106.00,107.93 L1106.29,109.44 L1106.60,110.96 L1106.92,112.47 L1107.19,113.98 L1107.38,115.49 L1107.48,117.00 L1107.48,118.52 L1107.39,120.03 L1107.23,121.54 L1107.02,123.05 L1106.80,124.56 L1106.60,126.07 L1106.44,127.59 L1106.32,129.10 L1106.24,130.61 L1106.19,132.12 L1106.17,133.63 L1106.16,135.15 L1106.15,136.66 L1106.14,138.17 L1106.14,139.68 L1106.15,141.19 L1106.19,142.71 L1106.28,144.22 L1106.42,145.73 L1106.60,147.24 L1106.82,148.75 L1107.05,150.26 L1107.26,151.78 L1107.42,153.29 L1107.51,154.80 L1107.50,156.31 L1107.38,157.82 L1107.18,159.34 L1106.90,160.85 L1106.58,162.36 L1106.26,163.87 L1105.99,165.38 L1105.79,166.89 L1105.68,168.41 L1105.68,169.92 L1105.78,171.43 L1105.96,172.94 L1106.18,174.45 L1106.42,175.97 L1106.64,177.48 L1106.83,178.99 L1106.96,180.50 L1107.05,182.01 L1107.08,183.53 L1107.09,185.04 L1107.07,186.55 L1107.05,188.06 L1107.03,189.57 L1107.00,191.08 L1106.97,192.60 L1106.92,194.11 L1106.84,195.62 L1106.72,197.13 L1106.55,198.64 L1106.36,200.16 L1106.15,201.67 L1105.96,203.18 L1105.81,204.69 L1105.73,206.20 L1105.74,207.72 L1105.85,209.23 L1106.05,210.74 L1106.32,212.25 L1106.64,213.76 L1106.96,215.27 L1107.23,216.79 L1107.44,218.30 L1107.54,219.81 L1107.54,221.32 L1107.44,222.83 L1107.25,224.35 L1107.02,225.86 L1106.76,227.37 L1106.51,228.88 L1106.31,230.39 L1106.16,231.91 L1106.07,233.42 L1106.04,234.93 L1106.06,236.44 L1106.10,237.95 L1106.26,239.46 L1106.40,240.98 L1106.51,242.49 L1106.60,244.00 L1106.60,244.00 L1106.45,246.35 L1105.99,248.66 L1105.23,250.89 L1104.19,253.00 L1102.88,254.96 L1101.33,256.73 L1099.56,258.28 L1097.60,259.59 L1095.49,260.63 L1093.26,261.39 L1090.95,261.85 L1088.60,262.00 L1088.60,262.00 L1087.09,261.93 L1085.59,261.93 L1084.08,261.97 L1082.57,262.05 L1081.07,262.13 L1079.56,262.20 L1078.05,262.28 L1076.54,262.37 L1075.04,262.46 L1073.53,262.55 L1072.02,262.62 L1070.52,262.65 L1069.01,262.62 L1067.50,262.52 L1066.00,262.35 L1064.49,262.11 L1062.98,261.84 L1061.47,261.56 L1059.97,261.31 L1058.46,261.12 L1056.95,261.03 L1055.45,261.04 L1053.94,261.16 L1052.43,261.37 L1050.93,261.65 L1049.42,261.96 L1047.91,262.27 L1046.40,262.52 L1044.90,262.70 L1043.39,262.80 L1041.88,262.80 L1040.38,262.73 L1038.87,262.60 L1037.36,262.43 L1035.86,262.26 L1034.35,262.11 L1032.84,261.98 L1031.33,261.87 L1029.83,261.79 L1028.32,261.73 L1026.81,261.67 L1025.31,261.61 L1023.80,261.55 L1022.29,261.49 L1020.79,261.44 L1019.28,261.42 L1017.77,261.45 L1016.27,261.54 L1014.76,261.69 L1013.25,261.90 L1011.74,262.15 L1010.24,262.41 L1008.73,262.66 L1007.22,262.85 L1005.72,262.95 L1004.21,262.95 L1002.70,262.85 L1001.20,262.64 L999.69,262.37 L998.18,262.05 L996.67,261.74 L995.17,261.47 L993.66,261.27 L992.15,261.16 L990.65,261.15 L989.14,261.22 L987.63,261.36 L986.13,261.55 L984.62,261.74 L983.11,261.93 L981.60,262.08 L980.10,262.20 L978.59,262.29 L977.08,262.34 L975.58,262.38 L974.07,262.41 L972.56,262.45 L971.06,262.48 L969.55,262.51 L968.04,262.51 L966.53,262.48 L965.03,262.40 L963.52,262.27 L962.01,262.08 L960.51,261.85 L959.00,261.61 L957.49,261.38 L955.99,261.19 L954.48,261.08 L952.97,261.07 L951.47,261.16 L949.96,261.35 L948.45,261.62 L946.94,261.93 L945.44,262.25 L943.93,262.53 L942.42,262.75 L940.92,262.87 L939.41,262.90 L937.90,262.83 L936.40,262.68 L934.89,262.48 L933.38,262.26 L931.87,262.05 L930.37,261.87 L928.86,261.73 L927.35,261.64 L925.85,261.58 L924.34,261.56 L922.83,261.55 L921.33,261.55 L919.82,261.55 L918.31,261.55 L916.80,261.56 L915.30,261.59 L913.79,261.67 L912.28,261.78 L910.78,261.95 L909.27,262.15 L907.76,262.37 L906.26,262.59 L904.75,262.77 L903.24,262.88 L901.73,262.91 L900.23,262.83 L898.72,262.65 L897.21,262.40 L895.71,262.09 L894.20,261.77 L892.69,261.47 L891.19,261.24 L889.68,261.10 L888.17,261.06 L886.67,261.13 L885.16,261.28 L883.65,261.49 L882.14,261.73 L880.64,261.97 L879.13,262.17 L877.62,262.33 L876.12,262.44 L874.61,262.49 L873.10,262.50 L871.60,262.49 L870.09,262.46 L868.58,262.43 L867.07,262.40 L865.57,262.37 L864.06,262.33 L862.55,262.26 L861.05,262.16 L859.54,262.02 L858.03,261.84 L856.53,261.64 L855.02,261.45 L853.51,261.28 L852.00,261.17 L850.50,261.13 L848.99,261.20 L847.48,261.35 L845.98,261.60 L844.47,261.89 L842.96,262.21 L841.46,262.51 L839.95,262.76 L838.44,262.91 L836.93,262.96 L835.43,262.91 L833.92,262.57 L832.41,262.27 L830.91,262.07 L829.40,262.00 L829.40,262.00 L827.05,261.85 L824.74,261.39 L822.51,260.63 L820.40,259.59 L818.44,258.28 L816.67,256.73 L815.12,254.96 L813.81,253.00 L812.77,250.89 L812.01,248.66 L811.55,246.35 L811.40,244.00 L811.40,244.00 L811.41,242.49 L811.36,240.98 L811.25,239.46 L811.06,237.95 L810.92,236.44 L810.78,234.93 L810.68,233.42 L810.64,231.91 L810.67,230.39 L810.79,228.88 L811.00,227.37 L811.26,225.86 L811.56,224.35 L811.86,222.83 L812.12,221.32 L812.30,219.81 L812.39,218.30 L812.36,216.79 L812.22,215.27 L812.00,213.76 L811.72,212.25 L811.43,210.74 L811.16,209.23 L810.93,207.72 L810.78,206.20 L810.70,204.69 L810.70,203.18 L810.76,201.67 L810.86,200.16 L810.98,198.64 L811.10,197.13 L811.21,195.62 L811.30,194.11 L811.38,192.60 L811.46,191.08 L811.55,189.57 L811.65,188.06 L811.76,186.55 L811.88,185.04 L811.99,183.53 L812.07,182.01 L812.10,180.50 L812.07,178.99 L811.95,177.48 L811.76,175.97 L811.51,174.45 L811.22,172.94 L810.93,171.43 L810.68,169.92 L810.50,168.41 L810.41,166.89 L810.44,165.38 L810.58,163.87 L810.80,162.36 L811.09,160.85 L811.39,159.34 L811.68,157.82 L811.92,156.31 L812.08,154.80 L812.16,153.29 L812.15,151.78 L812.08,150.26 L811.96,148.75 L811.81,147.24 L811.66,145.73 L811.53,144.22 L811.42,142.71 L811.33,141.19 L811.25,139.68 L811.18,138.17 L811.10,136.66 L811.02,135.15 L810.93,133.63 L810.85,132.12 L810.79,130.61 L810.76,129.10 L810.80,127.59 L810.91,126.07 L811.09,124.56 L811.32,123.05 L811.60,121.54 L811.87,120.03 L812.12,118.52 L812.29,117.00 L812.38,115.49 L812.35,113.98 L812.22,112.47 L811.99,110.96 L811.70,109.44 L811.39,107.93 L811.09,106.42 L810.84,104.91 L810.67,103.40 L810.59,101.88 L810.59,100.37 L810.68,98.86 L810.82,97.35 L811.00,95.84 L811.17,94.33 L811.33,92.81 L811.46,91.30 L811.56,89.79 L811.64,88.28 L811.69,86.77 L811.75,85.25 L811.80,83.74 L811.86,82.23 L811.92,80.72 L811.96,79.21 L811.96,77.69 L811.92,76.18 L811.82,74.67 L811.66,73.16 L811.44,71.65 L811.24,70.14 L811.16,68.62 L811.22,67.11 L811.40,65.60 L811.40,65.60 L811.55,63.25 L812.01,60.94 L812.77,58.71 L813.81,56.60 L815.12,54.64 L816.67,52.87 L818.44,51.32 L820.40,50.01 L822.51,48.97 L824.74,48.21 L827.05,47.75 L829.40,47.60 Z" fill="#f4e7f9" stroke="#7535b0" stroke-width="1.4"/>
<rect x="825" y="60" width="123.6" height="36" rx="18" fill="#b5e3a1"/>
<rect x="825" y="108.2" width="123.6" height="36" rx="18" fill="#d7e7f7"/>
<rect x="825" y="165.6" width="124" height="36.8" rx="18.4" fill="#fce3d4"/>
<rect x="823.4" y="212.4" width="124" height="36.6" rx="18.3" fill="#fdd37b"/>
<circle cx="844.7" cy="77.4" r="13.4" fill="#22b14c" stroke="#2b7a40" stroke-width="0.6"/>
<path d="M837,77.5 L842.3,82.6 L852.6,72.3" fill="none" stroke="#fff" stroke-width="2.2" stroke-linecap="round" stroke-linejoin="round"/>
<circle cx="846.2" cy="126.6" r="14.3" fill="#8ab4f8" stroke="#9a9aa0" stroke-width="0.7"/>
<circle cx="841.6" cy="123.6" r="2.5" fill="#dde6f6"/><circle cx="850.4" cy="123.6" r="2.5" fill="#dde6f6"/>
<line x1="841" y1="131.6" x2="851.3" y2="131.6" stroke="#dde6f6" stroke-width="2" stroke-linecap="round"/>
<circle cx="846.9" cy="183.8" r="13.7" fill="#f47a55" stroke="#c07060" stroke-width="0.6"/>
<circle cx="841" cy="182.3" r="2.3" fill="#f8dcd0"/><circle cx="851.9" cy="182.3" r="2.3" fill="#f8dcd0"/>
<path d="M841.5,191 Q846.9,186.5 852.5,191" fill="none" stroke="#f8dcd0" stroke-width="1.9" stroke-linecap="round"/>
<path d="M848.6,218.3 Q849.4,217.2 850.2,218.6 L862.6,240.4 Q863.2,242 861.6,242 L836,242 Q834.6,242 835.3,240.4 Z" fill="#fba41a" stroke="#c88a2a" stroke-width="0.7" stroke-linejoin="round"/>
<line x1="848.7" y1="224.6" x2="848.7" y2="234" stroke="#f6d79a" stroke-width="1.7" stroke-linecap="round"/>
<circle cx="848.7" cy="237.7" r="1" fill="#f6d79a"/>
<text x="876.98" y="85.60" font-family="Liberation Sans" font-weight="normal" font-size="23.26" fill="#000" textLength="44.98" lengthAdjust="spacingAndGlyphs"  stroke="#000" stroke-width="0.4">Easy</text>
<text x="865.29" y="134.00" font-family="Liberation Sans" font-weight="normal" font-size="22.09" fill="#000" textLength="76.03" lengthAdjust="spacingAndGlyphs"  stroke="#000" stroke-width="0.4">Medium</text>
<g fill="#111"><circle cx="881.6" cy="154.4" r="1.9"/><circle cx="889.6" cy="154.4" r="1.9"/><circle cx="897.6" cy="154.4" r="1.9"/></g>
<text x="870.12" y="192.40" font-family="Liberation Sans" font-weight="normal" font-size="22.97" fill="#000" textLength="50.86" lengthAdjust="spacingAndGlyphs"  stroke="#000" stroke-width="0.4">Hard</text>
<text x="867.21" y="240.00" font-family="Liberation Sans" font-weight="normal" font-size="21.80" fill="#000" textLength="70.39" lengthAdjust="spacingAndGlyphs"  stroke="#000" stroke-width="0.4">Invalid</text>
<line x1="938.80" y1="77.40" x2="957.50" y2="77.40" stroke="#000" stroke-width="1.8"/>
<path d="M963.50,77.40 L956.50,80.40 L956.50,74.40 Z" fill="#000"/>
<line x1="941.00" y1="126.40" x2="960.00" y2="126.40" stroke="#000" stroke-width="1.8"/>
<path d="M966.00,126.40 L959.00,129.40 L959.00,123.40 Z" fill="#000"/>
<line x1="938.40" y1="185.00" x2="956.80" y2="185.00" stroke="#000" stroke-width="1.8"/>
<path d="M962.80,185.00 L955.80,188.00 L955.80,182.00 Z" fill="#000"/>
<line x1="938.60" y1="230.40" x2="957.00" y2="230.40" stroke="#000" stroke-width="1.8"/>
<path d="M963.00,230.40 L956.00,233.40 L956.00,227.40 Z" fill="#000"/>
<text x="966.35" y="86.40" font-family="Liberation Sans" font-weight="normal" font-size="22.38" fill="#000" textLength="128.59" lengthAdjust="spacingAndGlyphs"  stroke="#000" stroke-width="0.4">Down Sample</text>
<text x="965.89" y="133.60" font-family="Liberation Sans" font-weight="normal" font-size="21.51" fill="#000" textLength="128.13" lengthAdjust="spacingAndGlyphs"  stroke="#000" stroke-width="0.4">Ratio Sample</text>
<text x="966.43" y="190.00" font-family="Liberation Sans" font-weight="normal" font-size="21.22" fill="#000" textLength="103.55" lengthAdjust="spacingAndGlyphs"  stroke="#000" stroke-width="0.4">Up Sample</text>
<text x="970.63" y="238.00" font-family="Liberation Sans" font-weight="normal" font-size="20.64" fill="#000" textLength="47.91" lengthAdjust="spacingAndGlyphs"  stroke="#000" stroke-width="0.4">Drop</text>
<g fill="none" stroke="#c66a66" stroke-width="3.3" stroke-linejoin="round">
<path d="M1119.4,33.4 L1159.7,33.4 L1146.3,48.6 L1132.8,48.6 Z"/>
<path d="M1134.1,48.6 L1145.3,48.6 L1145.3,71.2 L1134.1,66.6 Z"/>
</g>
<g fill="#c66a66"><rect x="1152" y="53" width="15" height="3"/><rect x="1152" y="60.2" width="15" height="3"/><rect x="1152" y="66.4" width="15" height="3"/></g>
<text x="1182.14" y="59.70" font-family="Liberation Sans" font-weight="normal" font-size="27.47" fill="#000" textLength="87.75" lengthAdjust="spacingAndGlyphs"  stroke="#000" stroke-width="0.4">Sample</text>
<path d="M1094.6,67.1 C1104,65.5 1120,71 1129.2,85.4 L1134.6,84.2 L1137.3,105.4 L1118.2,94.2 L1122.1,92.1 C1117,82 1108,72 1094.6,67.1 Z" fill="#c00000"/>
<line x1="1145.8" y1="107" x2="1145.8" y2="206.6" stroke="#000" stroke-width="2.5"/>
<line x1="1144.6" y1="205.4" x2="1253" y2="205.4" stroke="#000" stroke-width="2.5"/>
<rect x="1153" y="149" width="22.59999999999991" height="20" fill="#d5f0c9"/>
<rect x="1153" y="169" width="22.59999999999991" height="35" fill="#b3e3a0"/>
<rect x="1185" y="137.4" width="22.59999999999991" height="23.599999999999994" fill="#cdebfa"/>
<rect x="1185" y="161" width="22.59999999999991" height="18" fill="#9dd8f4"/>
<rect x="1185" y="179" width="22.59999999999991" height="25" fill="#5ec4f0"/>
<rect x="1215" y="128.6" width="22.59999999999991" height="40.400000000000006" fill="#fde2d7"/>
<rect x="1215" y="169" width="22.59999999999991" height="35" fill="#f6c4a8"/>
<path d="M1131.90,221.40 L1133.40,221.41 L1134.90,221.30 L1136.41,221.18 L1137.91,221.16 L1139.41,221.16 L1140.91,221.14 L1142.41,221.09 L1143.92,221.00 L1145.42,220.90 L1146.92,220.84 L1148.42,220.86 L1149.92,221.00 L1151.43,221.24 L1152.93,221.55 L1154.43,221.87 L1155.93,222.13 L1157.43,222.26 L1158.94,222.25 L1160.44,222.09 L1161.94,221.82 L1163.44,221.52 L1164.94,221.25 L1166.45,221.06 L1167.95,220.97 L1169.45,220.97 L1170.95,221.01 L1172.45,221.06 L1173.96,221.08 L1175.46,221.07 L1176.96,221.03 L1178.46,221.02 L1179.96,221.06 L1181.47,221.19 L1182.97,221.41 L1184.47,221.68 L1185.97,221.96 L1187.47,222.18 L1188.98,222.27 L1190.48,222.21 L1191.98,222.00 L1193.48,221.70 L1194.98,221.37 L1196.49,221.07 L1197.99,220.87 L1199.49,220.79 L1200.99,220.82 L1202.49,220.92 L1204.00,221.04 L1205.50,221.14 L1207.00,221.19 L1208.50,221.21 L1210.01,221.23 L1211.51,221.27 L1213.01,221.38 L1214.51,221.56 L1216.01,221.78 L1217.52,222.00 L1219.02,222.16 L1220.52,222.21 L1222.02,222.11 L1223.52,221.87 L1225.03,221.55 L1226.53,221.20 L1228.03,220.90 L1229.53,220.71 L1231.03,220.65 L1232.54,220.73 L1234.04,220.88 L1235.54,221.07 L1237.04,221.24 L1238.54,221.36 L1240.05,221.42 L1241.55,221.45 L1243.05,221.48 L1244.55,221.54 L1246.05,221.66 L1247.56,221.82 L1249.06,221.98 L1250.56,222.08 L1252.06,222.09 L1253.56,221.96 L1255.07,221.71 L1256.57,221.38 L1258.07,221.04 L1259.57,220.76 L1261.07,220.59 L1262.58,220.57 L1264.08,220.70 L1265.58,220.91 L1267.08,221.17 L1268.58,221.39 L1270.09,221.55 L1271.59,221.64 L1273.09,221.66 L1274.59,221.66 L1276.09,221.67 L1277.60,221.64 L1279.10,221.55 L1280.60,221.40 L1280.71,222.93 L1280.82,224.47 L1280.88,226.00 L1280.89,227.53 L1280.95,229.07 L1281.03,230.60 L1281.11,232.13 L1281.12,233.67 L1281.04,235.20 L1280.85,236.73 L1280.56,238.27 L1280.23,239.80 L1279.94,241.33 L1279.76,242.87 L1279.73,244.40 L1279.85,245.93 L1280.10,247.47 L1280.42,249.00 L1280.71,250.53 L1280.94,252.07 L1281.06,253.60 L1280.96,255.13 L1280.76,256.67 L1280.60,258.20 L1279.10,258.32 L1277.60,258.47 L1276.09,258.63 L1274.59,258.67 L1273.09,258.65 L1271.59,258.54 L1270.09,258.32 L1268.58,258.03 L1267.08,257.73 L1265.58,257.47 L1264.08,257.33 L1262.58,257.35 L1261.07,257.51 L1259.57,257.78 L1258.07,258.10 L1256.57,258.39 L1255.07,258.61 L1253.56,258.72 L1252.06,258.72 L1250.56,258.66 L1249.06,258.57 L1247.56,258.51 L1246.05,258.47 L1244.55,258.48 L1243.05,258.48 L1241.55,258.44 L1240.05,258.34 L1238.54,258.15 L1237.04,257.91 L1235.54,257.65 L1234.04,257.45 L1232.54,257.36 L1231.03,257.41 L1229.53,257.61 L1228.03,257.91 L1226.53,258.26 L1225.03,258.57 L1223.52,258.79 L1222.02,258.88 L1220.52,258.85 L1219.02,258.73 L1217.52,258.58 L1216.01,258.44 L1214.51,258.34 L1213.01,258.29 L1211.51,258.26 L1210.01,258.23 L1208.50,258.15 L1207.00,258.01 L1205.50,257.83 L1204.00,257.63 L1202.49,257.49 L1200.99,257.44 L1199.49,257.53 L1197.99,257.76 L1196.49,258.07 L1194.98,258.43 L1193.48,258.73 L1191.98,258.94 L1190.48,259.00 L1188.98,258.92 L1187.47,258.75 L1185.97,258.52 L1184.47,258.32 L1182.97,258.16 L1181.47,258.08 L1179.96,258.04 L1178.46,258.03 L1176.96,257.99 L1175.46,257.92 L1173.96,257.80 L1172.45,257.68 L1170.95,257.59 L1169.45,257.59 L1167.95,257.70 L1166.45,257.93 L1164.94,258.24 L1163.44,258.58 L1161.94,258.86 L1160.44,259.03 L1158.94,259.06 L1157.43,258.93 L1155.93,258.70 L1154.43,258.42 L1152.93,258.16 L1151.43,257.96 L1149.92,257.86 L1148.42,257.84 L1146.92,257.86 L1145.42,257.88 L1143.92,257.88 L1142.41,257.84 L1140.91,257.78 L1139.41,257.74 L1137.91,257.77 L1136.41,257.89 L1134.90,258.13 L1133.40,258.27 L1131.90,258.20 L1131.76,256.67 L1131.71,255.13 L1131.88,253.60 L1132.16,252.07 L1132.45,250.53 L1132.68,249.00 L1132.77,247.47 L1132.71,245.93 L1132.49,244.40 L1132.18,242.87 L1131.85,241.33 L1131.56,239.80 L1131.37,238.27 L1131.31,236.73 L1131.35,235.20 L1131.45,233.67 L1131.56,232.13 L1131.64,230.60 L1131.68,229.07 L1131.69,227.53 L1131.71,226.00 L1131.81,224.47 L1131.91,222.93 Z" fill="#fbf9ef" stroke="#111" stroke-width="2.4" stroke-linejoin="round"/>
<text x="1148.37" y="247.30" font-family="Liberation Sans" font-weight="normal" font-size="22.67" fill="#000" textLength="122.67" lengthAdjust="spacingAndGlyphs"  stroke="#000" stroke-width="0.4">~ 60M Pages</text>
<path d="M1206.2,282.6 L1209.5,320 L1217.2,320 L1206.2,334.4 L1195.4,320 L1203,320 Z" fill="#c00000"/>
<line x1="38.2" y1="407.3" x2="38.2" y2="507.3" stroke="#000" stroke-width="2.5"/>
<line x1="37.0" y1="506.1" x2="146" y2="506.1" stroke="#000" stroke-width="2.5"/>
<rect x="45.1" y="449.3" width="22.699999999999996" height="20.69999999999999" fill="#d5f0c9"/>
<rect x="45.1" y="470" width="22.699999999999996" height="34.69999999999999" fill="#b3e3a0"/>
<rect x="76.9" y="437.9" width="22.69999999999999" height="23.600000000000023" fill="#cdebfa"/>
<rect x="76.9" y="461.5" width="22.69999999999999" height="18.69999999999999" fill="#9dd8f4"/>
<rect x="76.9" y="480.2" width="22.69999999999999" height="24.5" fill="#5ec4f0"/>
<rect x="107.5" y="429.1" width="22.19999999999999" height="41.19999999999999" fill="#fde2d7"/>
<rect x="107.5" y="470.3" width="22.19999999999999" height="34.39999999999998" fill="#f6c4a8"/>
<path d="M24.00,521.80 L25.51,521.69 L27.02,521.58 L28.54,521.51 L30.05,521.48 L31.56,521.41 L33.07,521.33 L34.58,521.28 L36.10,521.31 L37.61,521.44 L39.12,521.68 L40.63,521.98 L42.15,522.30 L43.66,522.55 L45.17,522.67 L46.68,522.64 L48.19,522.47 L49.71,522.19 L51.22,521.88 L52.73,521.60 L54.24,521.41 L55.75,521.32 L57.27,521.33 L58.78,521.39 L60.29,521.45 L61.80,521.49 L63.32,521.49 L64.83,521.47 L66.34,521.47 L67.85,521.52 L69.36,521.66 L70.88,521.88 L72.39,522.15 L73.90,522.41 L75.41,522.60 L76.92,522.66 L78.44,522.56 L79.95,522.33 L81.46,522.01 L82.97,521.67 L84.48,521.38 L86.00,521.20 L87.51,521.15 L89.02,521.21 L90.53,521.33 L92.05,521.47 L93.56,521.58 L95.07,521.64 L96.58,521.67 L98.09,521.69 L99.61,521.74 L101.12,521.86 L102.63,522.04 L104.14,522.25 L105.65,522.45 L107.17,522.57 L108.68,522.56 L110.19,522.42 L111.70,522.14 L113.22,521.80 L114.73,521.45 L116.24,521.18 L117.75,521.04 L119.26,521.04 L120.78,521.16 L122.29,521.36 L123.80,521.56 L125.31,521.73 L126.82,521.84 L128.34,521.89 L129.85,521.91 L131.36,521.94 L132.87,522.02 L134.38,522.14 L135.90,522.28 L137.41,522.41 L138.92,522.46 L140.43,522.41 L141.95,522.22 L143.46,521.93 L144.97,521.59 L146.48,521.26 L147.99,521.04 L149.51,520.95 L151.02,521.01 L152.53,521.20 L154.04,521.46 L155.55,521.72 L157.07,521.93 L158.58,522.06 L160.09,522.11 L161.60,522.11 L163.12,522.09 L164.63,522.10 L166.14,522.15 L167.65,522.23 L169.16,522.29 L170.68,522.18 L172.19,521.95 L173.70,521.80 L173.82,523.31 L173.95,524.82 L174.09,526.34 L174.16,527.85 L174.18,529.36 L174.12,530.87 L173.96,532.38 L173.70,533.90 L173.39,535.41 L173.10,536.92 L172.89,538.43 L172.82,539.94 L172.91,541.46 L173.13,542.97 L173.44,544.48 L173.75,545.99 L174.01,547.50 L174.17,549.02 L174.22,550.53 L174.19,552.04 L174.11,553.55 L174.03,555.06 L173.92,556.58 L173.81,558.09 L173.70,559.60 L172.19,559.76 L170.68,559.90 L169.16,559.89 L167.65,559.69 L166.14,559.41 L164.63,559.12 L163.12,558.87 L161.60,558.74 L160.09,558.75 L158.58,558.92 L157.07,559.21 L155.55,559.54 L154.04,559.84 L152.53,560.06 L151.02,560.17 L149.51,560.16 L147.99,560.08 L146.48,559.98 L144.97,559.89 L143.46,559.84 L141.95,559.83 L140.43,559.82 L138.92,559.78 L137.41,559.68 L135.90,559.50 L134.38,559.26 L132.87,559.02 L131.36,558.84 L129.85,558.77 L128.34,558.85 L126.82,559.08 L125.31,559.40 L123.80,559.75 L122.29,560.05 L120.78,560.25 L119.26,560.32 L117.75,560.26 L116.24,560.12 L114.73,559.94 L113.22,559.78 L111.70,559.68 L110.19,559.63 L108.68,559.60 L107.17,559.56 L105.65,559.49 L104.14,559.35 L102.63,559.18 L101.12,559.00 L99.61,558.89 L98.09,558.89 L96.58,559.02 L95.07,559.27 L93.56,559.61 L92.05,559.96 L90.53,560.24 L89.02,560.40 L87.51,560.41 L86.00,560.28 L84.48,560.07 L82.97,559.83 L81.46,559.62 L79.95,559.47 L78.44,559.40 L76.92,559.38 L75.41,559.38 L73.90,559.35 L72.39,559.27 L70.88,559.17 L69.36,559.07 L67.85,559.02 L66.34,559.06 L64.83,559.22 L63.32,559.49 L61.80,559.82 L60.29,560.13 L58.78,560.37 L57.27,560.47 L55.75,560.42 L54.24,560.23 L52.73,559.95 L51.22,559.66 L49.71,559.41 L48.19,559.25 L46.68,559.19 L45.17,559.20 L43.66,559.24 L42.15,559.28 L40.63,559.27 L39.12,559.24 L37.61,559.20 L36.10,559.20 L34.58,559.27 L33.07,559.44 L31.56,559.69 L30.05,559.99 L28.54,560.26 L27.02,560.23 L25.51,559.93 L24.00,559.60 L24.09,558.09 L24.40,556.58 L24.75,555.06 L24.86,553.55 L24.82,552.04 L24.63,550.53 L24.33,549.02 L23.99,547.50 L23.68,545.99 L23.46,544.48 L23.37,542.97 L23.39,541.46 L23.49,539.94 L23.63,538.43 L23.74,536.92 L23.81,535.41 L23.84,533.90 L23.86,532.38 L23.90,530.87 L24.00,529.36 L24.16,527.85 L24.38,526.34 L24.45,524.82 L24.28,523.31 Z" fill="#fbf9ef" stroke="#111" stroke-width="2.4" stroke-linejoin="round"/>
<text x="39.36" y="548.20" font-family="Liberation Sans" font-weight="normal" font-size="23.40" fill="#000" textLength="96.75" lengthAdjust="spacingAndGlyphs"  stroke="#000" stroke-width="0.4">Page Data</text>
<path d="M145.40,462.40 L182.00,465.50 L180.00,472.25 L196.50,462.00 L180.00,451.75 L182.00,458.50 L145.40,461.60 Z" fill="#c00000"/>
<g stroke="#2d3fd6" stroke-width="3.1" fill="none" stroke-linecap="round">
<path d="M201.9,448 L212,427.4" stroke-linecap="butt"/>
<path d="M221.1,448 L231.2,427.4" stroke-linecap="butt"/>
<path d="M198.6,437 L218.3,437 Q222.3,436.8 222.3,432.5 Q222.1,428.7 217.3,428.3"/>
<path d="M224.6,437 L238.8,437 Q243.6,436.8 243.6,432.4 Q243.4,428.5 238.3,428.1"/>
</g>
<circle cx="221.1" cy="422.5" r="2.5" fill="#2d3fd6"/><circle cx="241.3" cy="422.5" r="2.5" fill="#2d3fd6"/>
<path d="M260.5,426 L270.6,424 L271.8,437 Q273,443.5 279,444 L280,426 L296.8,422.6 L296.8,434 Q296.5,452.2 279,452.2 Q261.5,452.2 260.5,434 Z" fill="#000"/>
<path d="M263.3,427.6 L268.4,426.6 L269.4,437.6 Q270.5,442.5 274,445 Q264.5,444.5 263.6,434 Z" fill="#f6f3fc"/>
<circle cx="282.75" cy="418.8" r="2.6" fill="#000"/><circle cx="291.4" cy="416.3" r="2.7" fill="#000"/>
<text x="217.05" y="482.00" font-family="Liberation Sans" font-weight="normal" font-size="23.26" fill="#000" textLength="73.13" lengthAdjust="spacingAndGlyphs"  stroke="#000" stroke-width="0.4">Layout</text>
<text x="200.32" y="511.00" font-family="Liberation Sans" font-weight="normal" font-size="23.26" fill="#000" textLength="109.76" lengthAdjust="spacingAndGlyphs"  stroke="#000" stroke-width="0.4">Detection</text>
<rect x="335.5" y="383.9" width="76.5" height="42.5" fill="#fff" stroke="#6f8fc8" stroke-width="1.8"/>
<rect x="332.2" y="387.4" width="76.5" height="42.5" fill="#fff" stroke="#6f8fc8" stroke-width="1.8"/>
<rect x="328.9" y="390.9" width="76.5" height="42.5" fill="#fff" stroke="#6f8fc8" stroke-width="1.8"/>
<text x="343.57" y="420.30" font-family="Liberation Sans" font-weight="normal" font-size="26.16" fill="#000" textLength="43.70" lengthAdjust="spacingAndGlyphs"  stroke="#000" stroke-width="0.4">Txt</text>
<rect x="332.1" y="452.0" width="76.10000000000002" height="41.60000000000002" fill="#fff" stroke="#6f8fc8" stroke-width="1.8"/>
<rect x="328.8" y="455.5" width="76.10000000000002" height="41.60000000000002" fill="#fff" stroke="#6f8fc8" stroke-width="1.8"/>
<rect x="325.5" y="459.0" width="76.10000000000002" height="41.60000000000002" fill="#fff" stroke="#6f8fc8" stroke-width="1.8"/>
<path d="M342.3,481.4 L346.3,480.4 L349,489.5 L354.6,463 L379.6,463" fill="none" stroke="#000" stroke-width="3" stroke-linejoin="miter"/>
<path d="M342,481.6 L346.2,479.6 L349.4,491 L348.6,493.5 Z" fill="#000"/>
<path d="M358.6,469.6 L375.2,469.6 L375.2,476.8 L373.2,476.8 L372.2,472.8 L363.8,472.8 L368.6,481.6 L362.6,489 L372.6,489 L373.4,486.4 L375.5,486.4 L375.5,493 L358.6,493 L358.6,491.8 L365.6,482.2 L358.6,471 Z" fill="#000"/>
<rect x="331.70000000000005" y="518.3" width="76.09999999999997" height="42.30000000000007" fill="#fff" stroke="#6f8fc8" stroke-width="1.8"/>
<rect x="328.40000000000003" y="521.8" width="76.09999999999997" height="42.30000000000007" fill="#fff" stroke="#6f8fc8" stroke-width="1.8"/>
<rect x="325.1" y="525.3" width="76.09999999999997" height="42.30000000000007" fill="#fff" stroke="#6f8fc8" stroke-width="1.8"/>
<g fill="none" stroke="#000" stroke-width="2.5"><rect x="344.9" y="529.9" width="31.4" height="30.7" rx="4.5"/>
<line x1="345" y1="542" x2="376" y2="542"/><line x1="345" y1="551.5" x2="376" y2="551.5"/><line x1="357" y1="542" x2="357" y2="560.5"/><line x1="365.3" y1="542" x2="365.3" y2="560.5"/></g>
<line x1="455.9" y1="404" x2="441.50" y2="386.40" stroke="#1b2a84" stroke-width="3.2"/>
<line x1="455.9" y1="404" x2="479.10" y2="387.80" stroke="#1b2a84" stroke-width="3.2"/>
<line x1="455.9" y1="404" x2="441.50" y2="421.40" stroke="#1b2a84" stroke-width="3.2"/>
<line x1="455.9" y1="404" x2="480.50" y2="425.00" stroke="#1b2a84" stroke-width="3.2"/>
<circle cx="455.9" cy="404" r="10.8" fill="#1b2a84"/>
<circle cx="441.50" cy="386.40" r="6.3" fill="#1b2a84"/>
<circle cx="479.10" cy="387.80" r="7.8" fill="#1b2a84"/>
<circle cx="441.50" cy="421.40" r="6.5" fill="#1b2a84"/>
<circle cx="480.50" cy="425.00" r="6.5" fill="#1b2a84"/>
<line x1="455.9" y1="472.7" x2="441.50" y2="455.10" stroke="#1b2a84" stroke-width="3.2"/>
<line x1="455.9" y1="472.7" x2="479.10" y2="456.50" stroke="#1b2a84" stroke-width="3.2"/>
<line x1="455.9" y1="472.7" x2="441.50" y2="490.10" stroke="#1b2a84" stroke-width="3.2"/>
<line x1="455.9" y1="472.7" x2="480.50" y2="493.70" stroke="#1b2a84" stroke-width="3.2"/>
<circle cx="455.9" cy="472.7" r="10.8" fill="#1b2a84"/>
<circle cx="441.50" cy="455.10" r="6.3" fill="#1b2a84"/>
<circle cx="479.10" cy="456.50" r="7.8" fill="#1b2a84"/>
<circle cx="441.50" cy="490.10" r="6.5" fill="#1b2a84"/>
<circle cx="480.50" cy="493.70" r="6.5" fill="#1b2a84"/>
<line x1="455.9" y1="541.7" x2="441.50" y2="524.10" stroke="#1b2a84" stroke-width="3.2"/>
<line x1="455.9" y1="541.7" x2="479.10" y2="525.50" stroke="#1b2a84" stroke-width="3.2"/>
<line x1="455.9" y1="541.7" x2="441.50" y2="559.10" stroke="#1b2a84" stroke-width="3.2"/>
<line x1="455.9" y1="541.7" x2="480.50" y2="562.70" stroke="#1b2a84" stroke-width="3.2"/>
<circle cx="455.9" cy="541.7" r="10.8" fill="#1b2a84"/>
<circle cx="441.50" cy="524.10" r="6.3" fill="#1b2a84"/>
<circle cx="479.10" cy="525.50" r="7.8" fill="#1b2a84"/>
<circle cx="441.50" cy="559.10" r="6.5" fill="#1b2a84"/>
<circle cx="480.50" cy="562.70" r="6.5" fill="#1b2a84"/>
<path d="M502.10,388.10 L503.60,387.98 L505.10,387.83 L506.60,387.67 L508.10,387.63 L509.60,387.65 L511.10,387.76 L512.60,387.98 L514.10,388.27 L515.60,388.57 L517.10,388.82 L518.60,388.96 L520.10,388.95 L521.60,388.80 L523.10,388.53 L524.60,388.21 L526.10,387.91 L527.60,387.69 L529.10,387.58 L530.60,387.57 L532.10,387.64 L533.60,387.72 L535.10,387.79 L536.60,387.82 L538.10,387.82 L539.60,387.82 L541.10,387.85 L542.60,387.96 L544.10,388.14 L545.60,388.38 L547.10,388.64 L548.60,388.84 L550.10,388.94 L551.60,388.89 L553.10,388.70 L554.60,388.40 L556.10,388.06 L557.60,387.74 L559.10,387.52 L560.60,387.42 L562.10,387.44 L563.60,387.56 L565.10,387.71 L566.60,387.86 L568.10,387.96 L569.60,388.01 L571.10,388.04 L572.60,388.07 L574.10,388.14 L575.60,388.28 L577.10,388.46 L578.60,388.65 L580.10,388.80 L581.60,388.86 L583.10,388.78 L584.60,388.56 L586.10,388.25 L587.60,387.90 L589.10,387.59 L590.60,387.37 L592.10,387.30 L593.60,387.37 L595.10,387.54 L596.60,387.76 L598.10,387.97 L599.60,388.13 L601.10,388.22 L602.60,388.26 L604.10,388.27 L605.60,388.30 L607.10,388.37 L608.60,388.48 L610.10,388.61 L611.60,388.70 L613.10,388.72 L614.60,388.62 L616.10,388.40 L617.60,388.09 L619.10,387.76 L620.60,387.46 L622.10,387.28 L623.60,387.24 L625.10,387.35 L626.60,387.57 L628.10,387.85 L629.60,388.11 L631.10,388.32 L632.60,388.43 L634.10,388.46 L635.60,388.45 L637.10,388.42 L638.60,388.42 L640.10,388.45 L641.60,388.51 L643.10,388.55 L644.60,388.54 L646.10,388.43 L647.60,388.23 L649.10,387.95 L650.60,387.65 L652.10,387.39 L653.60,387.24 L655.10,387.24 L656.60,387.39 L658.10,387.66 L659.60,387.98 L661.10,388.28 L662.60,388.51 L664.10,388.63 L665.60,388.64 L667.10,388.58 L668.60,388.49 L670.10,388.41 L671.60,388.37 L673.10,388.36 L674.60,388.36 L676.10,388.33 L677.60,388.24 L679.10,388.07 L680.60,387.83 L682.10,387.58 L683.60,387.37 L685.10,387.27 L686.60,387.30 L688.10,387.49 L689.60,387.78 L691.10,388.13 L692.60,388.45 L694.10,388.68 L695.60,388.79 L697.10,388.77 L698.60,388.52 L700.10,388.25 L701.60,388.10 L701.76,389.61 L701.93,391.12 L701.98,392.63 L701.83,394.13 L701.59,395.64 L701.30,397.15 L701.01,398.66 L700.80,400.17 L700.72,401.68 L700.80,403.19 L701.02,404.70 L701.33,406.20 L701.65,407.71 L701.93,409.22 L702.11,410.73 L702.17,412.24 L702.13,413.75 L702.04,415.26 L701.94,416.77 L701.87,418.27 L701.78,419.78 L701.69,421.29 L701.60,422.80 L700.10,422.83 L698.60,422.66 L697.10,422.33 L695.60,422.09 L694.10,421.95 L692.60,421.95 L691.10,422.11 L689.60,422.38 L688.10,422.72 L686.60,423.03 L685.10,423.27 L683.60,423.40 L682.10,423.41 L680.60,423.33 L679.10,423.21 L677.60,423.09 L676.10,423.02 L674.60,422.98 L673.10,422.97 L671.60,422.94 L670.10,422.86 L668.60,422.71 L667.10,422.51 L665.60,422.28 L664.10,422.09 L662.60,422.00 L661.10,422.04 L659.60,422.23 L658.10,422.52 L656.60,422.87 L655.10,423.20 L653.60,423.44 L652.10,423.55 L650.60,423.52 L649.10,423.39 L647.60,423.20 L646.10,423.02 L644.60,422.87 L643.10,422.79 L641.60,422.75 L640.10,422.73 L638.60,422.68 L637.10,422.59 L635.60,422.45 L634.10,422.29 L632.60,422.16 L631.10,422.11 L629.60,422.18 L628.10,422.38 L626.60,422.68 L625.10,423.02 L623.60,423.34 L622.10,423.56 L620.60,423.64 L619.10,423.57 L617.60,423.39 L616.10,423.14 L614.60,422.89 L613.10,422.70 L611.60,422.58 L610.10,422.53 L608.60,422.53 L607.10,422.53 L605.60,422.51 L604.10,422.44 L602.60,422.35 L601.10,422.28 L599.60,422.26 L598.10,422.35 L596.60,422.55 L595.10,422.83 L593.60,423.16 L592.10,423.44 L590.60,423.63 L589.10,423.67 L587.60,423.57 L586.10,423.33 L584.60,423.04 L583.10,422.74 L581.60,422.51 L580.10,422.37 L578.60,422.34 L577.10,422.37 L575.60,422.43 L574.10,422.48 L572.60,422.49 L571.10,422.47 L569.60,422.44 L568.10,422.46 L566.60,422.55 L565.10,422.72 L563.60,422.97 L562.10,423.25 L560.60,423.50 L559.10,423.64 L557.60,423.65 L556.10,423.50 L554.60,423.23 L553.10,422.90 L551.60,422.58 L550.10,422.33 L548.60,422.19 L547.10,422.18 L545.60,422.25 L544.10,422.38 L542.60,422.50 L541.10,422.59 L539.60,422.63 L538.10,422.65 L536.60,422.67 L535.10,422.74 L533.60,422.88 L532.10,423.08 L530.60,423.30 L529.10,423.49 L527.60,423.59 L526.10,423.56 L524.60,423.38 L523.10,423.09 L521.60,422.75 L520.10,422.41 L518.60,422.17 L517.10,422.05 L515.60,422.07 L514.10,422.19 L512.60,422.38 L511.10,422.58 L509.60,422.73 L508.10,422.82 L506.60,422.86 L505.10,422.87 L503.60,422.85 L502.10,422.80 L502.42,421.29 L502.71,419.78 L502.73,418.27 L502.43,416.77 L502.09,415.26 L501.77,413.75 L501.54,412.24 L501.43,410.73 L501.45,409.22 L501.56,407.71 L501.71,406.20 L501.85,404.70 L501.94,403.19 L501.99,401.68 L502.01,400.17 L502.05,398.66 L502.13,397.15 L502.27,395.64 L502.46,394.13 L502.66,392.63 L502.64,391.12 L502.39,389.61 Z" fill="#fbf9ef" stroke="#111" stroke-width="2.4" stroke-linejoin="round"/>
<text x="523.94" y="413.60" font-family="Liberation Sans" font-weight="normal" font-size="20.78" fill="#000" textLength="134.26" lengthAdjust="spacingAndGlyphs"  stroke="#000" stroke-width="0.4">Text Clusters</text>
<path d="M503.40,458.80 L504.91,458.64 L506.42,458.50 L507.93,458.50 L509.44,458.71 L510.95,458.99 L512.46,459.28 L513.98,459.53 L515.49,459.66 L517.00,459.65 L518.51,459.48 L520.02,459.20 L521.53,458.87 L523.04,458.56 L524.55,458.34 L526.06,458.23 L527.57,458.24 L529.08,458.32 L530.59,458.42 L532.10,458.51 L533.62,458.56 L535.13,458.57 L536.64,458.58 L538.15,458.62 L539.66,458.72 L541.17,458.90 L542.68,459.13 L544.19,459.37 L545.70,459.56 L547.21,459.63 L548.72,459.55 L550.23,459.33 L551.74,459.01 L553.26,458.66 L554.77,458.35 L556.28,458.15 L557.79,458.08 L559.30,458.13 L560.81,458.28 L562.32,458.45 L563.83,458.61 L565.34,458.72 L566.85,458.77 L568.36,458.80 L569.87,458.83 L571.38,458.91 L572.90,459.04 L574.41,459.22 L575.92,459.39 L577.43,459.51 L578.94,459.52 L580.45,459.39 L581.96,459.14 L583.47,458.81 L584.98,458.46 L586.49,458.17 L588.00,458.01 L589.51,457.99 L591.02,458.11 L592.54,458.32 L594.05,458.56 L595.56,458.77 L597.07,458.92 L598.58,459.00 L600.09,459.02 L601.60,459.02 L603.11,459.05 L604.62,459.12 L606.13,459.22 L607.64,459.33 L609.15,459.38 L610.66,459.35 L612.18,459.19 L613.69,458.93 L615.20,458.60 L616.71,458.28 L618.22,458.04 L619.73,457.93 L621.24,457.97 L622.75,458.16 L624.26,458.43 L625.77,458.72 L627.28,458.98 L628.79,459.14 L630.30,459.21 L631.82,459.20 L633.33,459.16 L634.84,459.13 L636.35,459.12 L637.86,459.16 L639.37,459.20 L640.88,459.20 L642.39,459.14 L643.90,458.98 L645.41,458.73 L646.92,458.44 L648.43,458.16 L649.94,457.98 L651.46,457.93 L652.97,458.04 L654.48,458.28 L655.99,458.60 L657.50,458.92 L659.01,459.19 L660.52,459.35 L662.03,459.39 L663.54,459.34 L665.05,459.23 L666.56,459.12 L668.07,459.05 L669.58,459.02 L671.10,459.01 L672.61,458.99 L674.12,458.92 L675.63,458.77 L677.14,458.57 L678.65,458.33 L680.16,458.11 L681.67,457.99 L683.18,458.01 L684.69,458.17 L686.20,458.45 L687.71,458.80 L689.22,459.13 L690.74,459.39 L692.25,459.52 L693.76,459.51 L695.27,459.40 L696.78,459.12 L698.29,458.89 L699.80,458.80 L699.88,460.32 L699.78,461.84 L699.49,463.35 L699.21,464.87 L699.01,466.39 L698.93,467.91 L699.01,469.43 L699.23,470.95 L699.55,472.46 L699.89,473.98 L700.17,475.50 L700.35,477.02 L700.41,478.54 L700.36,480.05 L700.26,481.57 L700.14,483.09 L700.05,484.61 L700.00,486.13 L699.99,487.65 L699.93,489.16 L699.84,490.68 L699.80,492.20 L698.29,491.93 L696.78,491.57 L695.27,491.37 L693.76,491.52 L692.25,491.80 L690.74,492.14 L689.22,492.47 L687.71,492.72 L686.20,492.84 L684.69,492.84 L683.18,492.75 L681.67,492.61 L680.16,492.48 L678.65,492.38 L677.14,492.33 L675.63,492.31 L674.12,492.28 L672.61,492.21 L671.10,492.07 L669.58,491.87 L668.07,491.66 L666.56,491.49 L665.05,491.42 L663.54,491.48 L662.03,491.69 L660.52,492.00 L659.01,492.35 L657.50,492.67 L655.99,492.89 L654.48,492.98 L652.97,492.93 L651.46,492.77 L649.94,492.56 L648.43,492.36 L646.92,492.21 L645.41,492.12 L643.90,492.09 L642.39,492.07 L640.88,492.03 L639.37,491.94 L637.86,491.81 L636.35,491.67 L634.84,491.56 L633.33,491.55 L631.82,491.66 L630.30,491.89 L628.79,492.21 L627.28,492.55 L625.77,492.84 L624.26,493.02 L622.75,493.05 L621.24,492.93 L619.73,492.70 L618.22,492.43 L616.71,492.18 L615.20,492.00 L613.69,491.90 L612.18,491.88 L610.66,491.89 L609.15,491.90 L607.64,491.88 L606.13,491.82 L604.62,491.75 L603.11,491.71 L601.60,491.73 L600.09,491.87 L598.58,492.10 L597.07,492.40 L595.56,492.71 L594.05,492.95 L592.54,493.07 L591.02,493.04 L589.51,492.86 L588.00,492.58 L586.49,492.26 L584.98,491.98 L583.47,491.78 L581.96,491.70 L580.45,491.70 L578.94,491.77 L577.43,491.85 L575.92,491.90 L574.41,491.91 L572.90,491.90 L571.38,491.90 L569.87,491.95 L568.36,492.08 L566.85,492.29 L565.34,492.55 L563.83,492.81 L562.32,492.99 L560.81,493.05 L559.30,492.96 L557.79,492.72 L556.28,492.40 L554.77,492.05 L553.26,491.77 L551.74,491.58 L550.23,491.53 L548.72,491.59 L547.21,491.72 L545.70,491.87 L544.19,491.99 L542.68,492.06 L541.17,492.10 L539.66,492.12 L538.15,492.17 L536.64,492.28 L535.13,492.44 L533.62,492.65 L532.10,492.84 L530.59,492.96 L529.08,492.95 L527.57,492.81 L526.06,492.54 L524.55,492.19 L523.04,491.85 L521.53,491.58 L520.02,491.43 L518.51,491.43 L517.00,491.55 L515.49,491.75 L513.98,491.97 L512.46,492.15 L510.95,492.26 L509.44,492.32 L507.93,492.34 L506.42,492.32 L504.91,492.28 L503.40,492.20 L503.52,490.68 L503.38,489.16 L503.05,487.65 L502.81,486.13 L502.70,484.61 L502.72,483.09 L502.84,481.57 L503.01,480.05 L503.17,478.54 L503.28,477.02 L503.34,475.50 L503.37,473.98 L503.40,472.46 L503.47,470.95 L503.60,469.43 L503.77,467.91 L503.96,466.39 L504.10,464.87 L504.14,463.35 L503.89,461.84 L503.56,460.32 Z" fill="#fbf9ef" stroke="#111" stroke-width="2.4" stroke-linejoin="round"/>
<text x="517.26" y="484.00" font-family="Liberation Sans" font-weight="normal" font-size="21.80" fill="#000" textLength="165.46" lengthAdjust="spacingAndGlyphs"  stroke="#000" stroke-width="0.4">Formula Clusters</text>
<path d="M503.40,528.80 L504.91,528.77 L506.42,528.94 L507.93,529.28 L509.44,529.52 L510.95,529.65 L512.46,529.64 L513.98,529.48 L515.49,529.20 L517.00,528.86 L518.51,528.55 L520.02,528.31 L521.53,528.19 L523.04,528.20 L524.55,528.28 L526.06,528.40 L527.57,528.52 L529.08,528.59 L530.59,528.62 L532.10,528.63 L533.62,528.67 L535.13,528.76 L536.64,528.92 L538.15,529.13 L539.66,529.36 L541.17,529.53 L542.68,529.60 L544.19,529.53 L545.70,529.32 L547.21,529.01 L548.72,528.65 L550.23,528.34 L551.74,528.13 L553.26,528.05 L554.77,528.10 L556.28,528.26 L557.79,528.45 L559.30,528.63 L560.81,528.76 L562.32,528.83 L563.83,528.85 L565.34,528.88 L566.85,528.94 L568.36,529.05 L569.87,529.20 L571.38,529.36 L572.90,529.47 L574.41,529.48 L575.92,529.37 L577.43,529.13 L578.94,528.80 L580.45,528.45 L581.96,528.16 L583.47,527.99 L584.98,527.97 L586.49,528.09 L588.00,528.31 L589.51,528.56 L591.02,528.80 L592.54,528.96 L594.05,529.05 L595.56,529.07 L597.07,529.07 L598.58,529.07 L600.09,529.12 L601.60,529.20 L603.11,529.29 L604.62,529.34 L606.13,529.31 L607.64,529.16 L609.15,528.92 L610.66,528.60 L612.18,528.29 L613.69,528.04 L615.20,527.93 L616.71,527.97 L618.22,528.15 L619.73,528.43 L621.24,528.73 L622.75,529.00 L624.26,529.18 L625.77,529.26 L627.28,529.25 L628.79,529.20 L630.30,529.14 L631.82,529.11 L633.33,529.12 L634.84,529.15 L636.35,529.15 L637.86,529.10 L639.37,528.95 L640.88,528.72 L642.39,528.44 L643.90,528.18 L645.41,527.99 L646.92,527.94 L648.43,528.04 L649.94,528.28 L651.46,528.60 L652.97,528.94 L654.48,529.21 L655.99,529.38 L657.50,529.43 L659.01,529.37 L660.52,529.25 L662.03,529.13 L663.54,529.03 L665.05,528.98 L666.56,528.96 L668.07,528.94 L669.58,528.88 L671.10,528.75 L672.61,528.56 L674.12,528.34 L675.63,528.14 L677.14,528.02 L678.65,528.03 L680.16,528.18 L681.67,528.46 L683.18,528.80 L684.69,529.14 L686.20,529.41 L687.71,529.55 L689.22,529.54 L690.74,529.42 L692.25,529.24 L693.76,529.04 L695.27,528.88 L696.78,528.79 L698.29,528.78 L699.80,528.80 L699.58,530.32 L699.21,531.84 L698.94,533.35 L699.01,534.87 L699.23,536.39 L699.55,537.91 L699.89,539.43 L700.19,540.95 L700.38,542.46 L700.45,543.98 L700.40,545.50 L700.28,547.02 L700.14,548.54 L700.03,550.05 L699.96,551.57 L699.93,553.09 L699.91,554.61 L699.86,556.13 L699.75,557.65 L699.63,559.16 L699.63,560.68 L699.80,562.20 L698.29,561.95 L696.78,561.90 L695.27,562.15 L693.76,562.48 L692.25,562.74 L690.74,562.88 L689.22,562.88 L687.71,562.78 L686.20,562.63 L684.69,562.47 L683.18,562.35 L681.67,562.29 L680.16,562.26 L678.65,562.23 L677.14,562.17 L675.63,562.05 L674.12,561.88 L672.61,561.68 L671.10,561.52 L669.58,561.45 L668.07,561.51 L666.56,561.70 L665.05,562.00 L663.54,562.36 L662.03,562.68 L660.52,562.91 L659.01,563.00 L657.50,562.95 L655.99,562.79 L654.48,562.56 L652.97,562.34 L651.46,562.17 L649.94,562.07 L648.43,562.03 L646.92,562.02 L645.41,561.99 L643.90,561.93 L642.39,561.82 L640.88,561.70 L639.37,561.60 L637.86,561.59 L636.35,561.69 L634.84,561.90 L633.33,562.21 L631.82,562.55 L630.30,562.84 L628.79,563.03 L627.28,563.06 L625.77,562.94 L624.26,562.71 L622.75,562.43 L621.24,562.16 L619.73,561.96 L618.22,561.85 L616.71,561.83 L615.20,561.85 L613.69,561.88 L612.18,561.88 L610.66,561.85 L609.15,561.79 L607.64,561.75 L606.13,561.78 L604.62,561.90 L603.11,562.12 L601.60,562.40 L600.09,562.70 L598.58,562.95 L597.07,563.07 L595.56,563.04 L594.05,562.86 L592.54,562.58 L591.02,562.25 L589.51,561.96 L588.00,561.75 L586.49,561.65 L584.98,561.66 L583.47,561.74 L581.96,561.83 L580.45,561.91 L578.94,561.94 L577.43,561.95 L575.92,561.95 L574.41,562.00 L572.90,562.11 L571.38,562.31 L569.87,562.55 L568.36,562.79 L566.85,562.97 L565.34,563.03 L563.83,562.95 L562.32,562.72 L560.81,562.39 L559.30,562.05 L557.79,561.75 L556.28,561.55 L554.77,561.50 L553.26,561.56 L551.74,561.70 L550.23,561.87 L548.72,562.01 L547.21,562.10 L545.70,562.15 L544.19,562.17 L542.68,562.21 L541.17,562.30 L539.66,562.45 L538.15,562.63 L536.64,562.81 L535.13,562.93 L533.62,562.93 L532.10,562.79 L530.59,562.53 L529.08,562.19 L527.57,561.84 L526.06,561.56 L524.55,561.41 L523.04,561.40 L521.53,561.53 L520.02,561.74 L518.51,561.97 L517.00,562.17 L515.49,562.31 L513.98,562.37 L512.46,562.39 L510.95,562.40 L509.44,562.44 L507.93,562.53 L506.42,562.53 L504.91,562.41 L503.40,562.20 L503.17,560.68 L502.85,559.16 L502.69,557.65 L502.81,556.13 L502.99,554.61 L503.17,553.09 L503.31,551.57 L503.39,550.05 L503.43,548.54 L503.45,547.02 L503.50,545.50 L503.61,543.98 L503.76,542.46 L503.93,540.95 L504.06,539.43 L504.11,537.91 L504.02,536.39 L503.80,534.87 L503.49,533.35 L503.20,531.84 L503.18,530.32 Z" fill="#fbf9ef" stroke="#111" stroke-width="2.4" stroke-linejoin="round"/>
<text x="519.56" y="554.00" font-family="Liberation Sans" font-weight="normal" font-size="21.80" fill="#000" textLength="140.65" lengthAdjust="spacingAndGlyphs"  stroke="#000" stroke-width="0.4">Table Clusters</text>
<line x1="703.50" y1="408.20" x2="743.96" y2="428.73" stroke="#000" stroke-width="1.8"/>
<path d="M750.20,431.90 L741.60,431.18 L744.54,425.38 Z" fill="#000"/>
<line x1="702.00" y1="474.60" x2="729.20" y2="474.60" stroke="#000" stroke-width="1.8"/>
<path d="M736.20,474.60 L728.20,477.85 L728.20,471.35 Z" fill="#000"/>
<line x1="705.80" y1="545.80" x2="742.92" y2="513.50" stroke="#000" stroke-width="1.8"/>
<path d="M748.20,508.90 L744.30,516.60 L740.03,511.70 Z" fill="#000"/>
<text x="756.59" y="445.20" font-family="Liberation Sans" font-weight="normal" font-size="24.71" fill="#000" textLength="70.21" lengthAdjust="spacingAndGlyphs"  stroke="#000" stroke-width="1.0" font-style="italic">CMCV</text>
<g fill="#8b4688" stroke="none">
<circle cx="793.6" cy="458.9" r="2"/>
<rect x="791.8000000000001" y="458.9" width="3.6" height="50"/>
<rect x="766.2" y="462.2" width="54.8" height="3.8" rx="1.9"/>
<path d="M781.2,512.6999999999999 Q787.6,508.4 791.8000000000001,506.9 L795.4,506.9 Q799.6,508.4 806.2,512.6999999999999 Z"/>
</g>
<path d="M766.1,486.9 L775.7,465.9 L785.3000000000001,486.9" fill="none" stroke="#8b4688" stroke-width="3" stroke-linejoin="round"/>
<path d="M764.7,486.5 L786.7,486.5 A11,9.4 0 0 1 764.7,486.5 Z" fill="#8b4688"/>
<path d="M770.7,490.9 Q775.7,492.5 780.1,490.9" fill="none" stroke="#e9dcec" stroke-width="1.3" stroke-linecap="round"/>
<path d="M801.9,486.9 L811.5,465.9 L821.1,486.9" fill="none" stroke="#8b4688" stroke-width="3" stroke-linejoin="round"/>
<path d="M800.5,486.5 L822.5,486.5 A11,9.4 0 0 1 800.5,486.5 Z" fill="#8b4688"/>
<path d="M806.5,490.9 Q811.5,492.5 815.9,490.9" fill="none" stroke="#e9dcec" stroke-width="1.3" stroke-linecap="round"/>
<path d="M823.80,469.70 L860.50,472.80 L858.50,479.80 L874.00,469.30 L858.50,458.80 L860.50,465.80 L823.80,468.90 Z" fill="#c00000"/>
<path d="M902.30,328.10 L909.59,337.87 L921.13,341.78 L914.09,351.73 L913.94,363.92 L902.30,360.30 L890.66,363.92 L890.51,351.73 L883.47,341.78 L895.01,337.87 Z" fill="#fcc419" stroke="#e2a80a" stroke-width="0.8" stroke-linejoin="round"/>
<path d="M904,342.6 Q908.3,343.2 909.3,347.8" fill="none" stroke="#fff" stroke-width="1.8" stroke-linecap="round"/>
<text x="927.58" y="358.80" font-family="Liberation Sans" font-weight="normal" font-size="31.25" fill="#000" textLength="169.36" lengthAdjust="spacingAndGlyphs"  stroke="#000" stroke-width="0.4">Final Sample</text>
<path d="M1102.5,347.3 C1112,339.5 1129,339 1142.5,345.4 L1144.6,340.4 L1158.75,356.7 L1137,357.9 L1138.3,354.2 C1126,347.5 1112,345.5 1102.5,347.3 Z" fill="#c00000"/>
<rect x="887.7" y="375.7" width="230.8" height="212.4" rx="15" fill="#fff" stroke="#c4c4c4" stroke-width="1.3"/>
<line x1="908.00" y1="398" x2="908.00" y2="575.20" stroke="#b0b0b0" stroke-width="1.1"/>
<line x1="908" y1="398.00" x2="1085.20" y2="398.00" stroke="#b0b0b0" stroke-width="1.1"/>
<line x1="952.30" y1="398" x2="952.30" y2="575.20" stroke="#b0b0b0" stroke-width="1.1"/>
<line x1="908" y1="442.30" x2="1085.20" y2="442.30" stroke="#b0b0b0" stroke-width="1.1"/>
<line x1="996.60" y1="398" x2="996.60" y2="575.20" stroke="#b0b0b0" stroke-width="1.1"/>
<line x1="908" y1="486.60" x2="1085.20" y2="486.60" stroke="#555" stroke-width="1.1"/>
<line x1="1040.90" y1="398" x2="1040.90" y2="575.20" stroke="#b0b0b0" stroke-width="1.1"/>
<line x1="908" y1="530.90" x2="1085.20" y2="530.90" stroke="#b0b0b0" stroke-width="1.1"/>
<line x1="1085.20" y1="398" x2="1085.20" y2="575.20" stroke="#b0b0b0" stroke-width="1.1"/>
<line x1="908" y1="575.20" x2="1085.20" y2="575.20" stroke="#b0b0b0" stroke-width="1.1"/>
<line x1="907.8" y1="383" x2="907.8" y2="576.6" stroke="#222" stroke-width="1.7"/>
<path d="M907.8,379 L910.3,385 L905.3,385 Z" fill="#222"/>
<line x1="907" y1="576" x2="1100" y2="576" stroke="#222" stroke-width="1.7"/>
<path d="M1104.5,576 L1098.5,578.5 L1098.5,573.5 Z" fill="#222"/>
<circle cx="930.65" cy="420.65" r="11" fill="#f77b4f" stroke="#8a7a6a" stroke-width="0.5"/>
<path d="M924.65,420.95 L929.05,425.25 L936.65,416.85" fill="none" stroke="#fff" stroke-width="1.8" stroke-linecap="round" stroke-linejoin="round"/>
<circle cx="974.95" cy="420.65" r="11" fill="#22b04b" stroke="#8a7a6a" stroke-width="0.5"/>
<path d="M968.95,420.95 L973.35,425.25 L980.95,416.85" fill="none" stroke="#fff" stroke-width="1.8" stroke-linecap="round" stroke-linejoin="round"/>
<circle cx="1019.25" cy="420.65" r="11" fill="#fba41a" stroke="#8a7a6a" stroke-width="0.5"/>
<path d="M1013.25,420.95 L1017.65,425.25 L1025.25,416.85" fill="none" stroke="#fff" stroke-width="1.8" stroke-linecap="round" stroke-linejoin="round"/>
<circle cx="1063.55" cy="420.65" r="11" fill="#f77b4f" stroke="#8a7a6a" stroke-width="0.5"/>
<path d="M1057.55,420.95 L1061.95,425.25 L1069.55,416.85" fill="none" stroke="#fff" stroke-width="1.8" stroke-linecap="round" stroke-linejoin="round"/>
<circle cx="930.65" cy="464.95" r="11" fill="#22b04b" stroke="#8a7a6a" stroke-width="0.5"/>
<path d="M924.65,465.25 L929.05,469.55 L936.65,461.15" fill="none" stroke="#fff" stroke-width="1.8" stroke-linecap="round" stroke-linejoin="round"/>
<circle cx="974.95" cy="464.95" r="11" fill="#22b04b" stroke="#8a7a6a" stroke-width="0.5"/>
<path d="M968.95,465.25 L973.35,469.55 L980.95,461.15" fill="none" stroke="#fff" stroke-width="1.8" stroke-linecap="round" stroke-linejoin="round"/>
<circle cx="1019.25" cy="464.95" r="11" fill="#fba41a" stroke="#8a7a6a" stroke-width="0.5"/>
<path d="M1013.25,465.25 L1017.65,469.55 L1025.25,461.15" fill="none" stroke="#fff" stroke-width="1.8" stroke-linecap="round" stroke-linejoin="round"/>
<circle cx="1063.55" cy="464.95" r="11" fill="#fba41a" stroke="#8a7a6a" stroke-width="0.5"/>
<path d="M1057.55,465.25 L1061.95,469.55 L1069.55,461.15" fill="none" stroke="#fff" stroke-width="1.8" stroke-linecap="round" stroke-linejoin="round"/>
<circle cx="930.65" cy="509.25" r="11" fill="#22b04b" stroke="#8a7a6a" stroke-width="0.5"/>
<path d="M924.65,509.55 L929.05,513.85 L936.65,505.45" fill="none" stroke="#fff" stroke-width="1.8" stroke-linecap="round" stroke-linejoin="round"/>
<circle cx="974.95" cy="509.25" r="11" fill="#1e8fe0" stroke="#8a7a6a" stroke-width="0.5"/>
<path d="M968.95,509.55 L973.35,513.85 L980.95,505.45" fill="none" stroke="#fff" stroke-width="1.8" stroke-linecap="round" stroke-linejoin="round"/>
<circle cx="1019.25" cy="509.25" r="11" fill="#fba41a" stroke="#8a7a6a" stroke-width="0.5"/>
<path d="M1013.25,509.55 L1017.65,513.85 L1025.25,505.45" fill="none" stroke="#fff" stroke-width="1.8" stroke-linecap="round" stroke-linejoin="round"/>
<circle cx="1063.55" cy="509.25" r="11" fill="#1e8fe0" stroke="#8a7a6a" stroke-width="0.5"/>
<path d="M1057.55,509.55 L1061.95,513.85 L1069.55,505.45" fill="none" stroke="#fff" stroke-width="1.8" stroke-linecap="round" stroke-linejoin="round"/>
<circle cx="930.65" cy="553.55" r="11" fill="#1e8fe0" stroke="#8a7a6a" stroke-width="0.5"/>
<path d="M924.65,553.85 L929.05,558.15 L936.65,549.75" fill="none" stroke="#fff" stroke-width="1.8" stroke-linecap="round" stroke-linejoin="round"/>
<circle cx="974.95" cy="553.55" r="11" fill="#fba41a" stroke="#8a7a6a" stroke-width="0.5"/>
<path d="M968.95,553.85 L973.35,558.15 L980.95,549.75" fill="none" stroke="#fff" stroke-width="1.8" stroke-linecap="round" stroke-linejoin="round"/>
<circle cx="1019.25" cy="553.55" r="11" fill="#f77b4f" stroke="#8a7a6a" stroke-width="0.5"/>
<path d="M1013.25,553.85 L1017.65,558.15 L1025.25,549.75" fill="none" stroke="#fff" stroke-width="1.8" stroke-linecap="round" stroke-linejoin="round"/>
<circle cx="1063.55" cy="553.55" r="11" fill="#f77b4f" stroke="#8a7a6a" stroke-width="0.5"/>
<path d="M1057.55,553.85 L1061.95,558.15 L1069.55,549.75" fill="none" stroke="#fff" stroke-width="1.8" stroke-linecap="round" stroke-linejoin="round"/>
<rect x="1147.3" y="377.8" width="145.6" height="158.6" rx="9.5" fill="#faf7fe" stroke="#111" stroke-width="2.2"/>
<rect x="1157.2" y="385" width="123.8" height="28" rx="14" fill="#b3e3a0"/>
<rect x="1158.7" y="420.7" width="123.6" height="28.6" rx="14.3" fill="#d8e8f7"/>
<rect x="1158.7" y="456.3" width="124" height="28.8" rx="14.4" fill="#fde3d6"/>
<rect x="1160" y="495.5" width="123.5" height="28" rx="14" fill="#fdd27a"/>
<text x="1194.19" y="404.50" font-family="Liberation Sans" font-weight="normal" font-size="17.44" fill="#000" textLength="49.13" lengthAdjust="spacingAndGlyphs"  stroke="#000" stroke-width="0.4">Layout</text>
<text x="1203.82" y="439.70" font-family="Liberation Sans" font-weight="normal" font-size="16.72" fill="#000" textLength="34.55" lengthAdjust="spacingAndGlyphs"  stroke="#000" stroke-width="0.4">Text</text>
<text x="1191.22" y="477.00" font-family="Liberation Sans" font-weight="normal" font-size="17.88" fill="#000" textLength="58.52" lengthAdjust="spacingAndGlyphs"  stroke="#000" stroke-width="0.4">Formula</text>
<text x="1202.56" y="515.80" font-family="Liberation Sans" font-weight="normal" font-size="17.88" fill="#000" textLength="40.20" lengthAdjust="spacingAndGlyphs"  stroke="#000" stroke-width="0.4">Table</text>
<path d="M1146.30,544.30 L1147.80,544.56 L1149.31,544.93 L1150.81,545.13 L1152.32,544.98 L1153.82,544.70 L1155.32,544.37 L1156.83,544.04 L1158.33,543.79 L1159.84,543.66 L1161.34,543.65 L1162.84,543.74 L1164.35,543.88 L1165.85,544.02 L1167.36,544.11 L1168.86,544.16 L1170.36,544.19 L1171.87,544.21 L1173.37,544.28 L1174.88,544.42 L1176.38,544.61 L1177.88,544.82 L1179.39,544.99 L1180.89,545.08 L1182.40,545.03 L1183.90,544.84 L1185.41,544.54 L1186.91,544.19 L1188.41,543.86 L1189.92,543.63 L1191.42,543.52 L1192.93,543.56 L1194.43,543.71 L1195.93,543.91 L1197.44,544.11 L1198.94,544.27 L1200.45,544.37 L1201.95,544.41 L1203.45,544.43 L1204.96,544.46 L1206.46,544.54 L1207.97,544.66 L1209.47,544.81 L1210.97,544.92 L1212.48,544.96 L1213.98,544.87 L1215.49,544.67 L1216.99,544.37 L1218.49,544.02 L1220.00,543.71 L1221.50,543.51 L1223.01,543.44 L1224.51,543.53 L1226.01,543.74 L1227.52,544.00 L1229.02,544.26 L1230.53,544.46 L1232.03,544.58 L1233.53,544.62 L1235.04,544.61 L1236.54,544.60 L1238.05,544.61 L1239.55,544.66 L1241.05,544.73 L1242.56,544.79 L1244.06,544.78 L1245.57,544.68 L1247.07,544.48 L1248.57,544.19 L1250.08,543.88 L1251.58,543.61 L1253.09,543.45 L1254.59,543.43 L1256.09,543.57 L1257.60,543.82 L1259.10,544.14 L1260.61,544.44 L1262.11,544.66 L1263.62,544.79 L1265.12,544.81 L1266.62,544.76 L1268.13,544.68 L1269.63,544.62 L1271.14,544.59 L1272.64,544.60 L1274.14,544.61 L1275.65,544.58 L1277.15,544.48 L1278.66,544.30 L1280.16,544.05 L1281.66,543.79 L1283.17,543.57 L1284.67,543.46 L1286.18,543.49 L1287.68,543.67 L1289.18,543.96 L1290.69,544.30 L1292.19,544.54 L1293.70,544.51 L1295.20,544.30 L1294.90,545.82 L1294.77,547.35 L1294.95,548.88 L1295.30,550.40 L1295.61,551.92 L1295.81,553.45 L1295.89,554.97 L1295.84,556.50 L1295.71,558.02 L1295.55,559.55 L1295.41,561.07 L1295.32,562.60 L1295.28,564.12 L1295.26,565.65 L1295.21,567.17 L1295.12,568.70 L1294.96,570.23 L1294.76,571.75 L1294.58,573.27 L1294.46,574.80 L1294.46,576.32 L1294.75,577.85 L1295.08,579.38 L1295.20,580.90 L1293.70,581.01 L1292.19,581.32 L1290.69,581.61 L1289.18,581.62 L1287.68,581.51 L1286.18,581.35 L1284.67,581.17 L1283.17,581.03 L1281.66,580.94 L1280.16,580.90 L1278.66,580.88 L1277.15,580.83 L1275.65,580.74 L1274.14,580.59 L1272.64,580.41 L1271.14,580.26 L1269.63,580.18 L1268.13,580.22 L1266.62,580.40 L1265.12,580.68 L1263.62,581.03 L1262.11,581.36 L1260.61,581.61 L1259.10,581.72 L1257.60,581.69 L1256.09,581.53 L1254.59,581.30 L1253.09,581.06 L1251.58,580.86 L1250.08,580.74 L1248.57,580.68 L1247.07,580.67 L1245.57,580.66 L1244.06,580.63 L1242.56,580.55 L1241.05,580.45 L1239.55,580.36 L1238.05,580.32 L1236.54,580.39 L1235.04,580.58 L1233.53,580.86 L1232.03,581.19 L1230.53,581.49 L1229.02,581.70 L1227.52,581.77 L1226.01,581.69 L1224.51,581.48 L1223.01,581.19 L1221.50,580.90 L1220.00,580.67 L1218.49,580.53 L1216.99,580.48 L1215.49,580.50 L1213.98,580.54 L1212.48,580.58 L1210.97,580.57 L1209.47,580.54 L1207.97,580.51 L1206.46,580.51 L1204.96,580.59 L1203.45,580.77 L1201.95,581.03 L1200.45,581.32 L1198.94,581.58 L1197.44,581.74 L1195.93,581.76 L1194.43,581.63 L1192.93,581.37 L1191.42,581.05 L1189.92,580.73 L1188.41,580.47 L1186.91,580.33 L1185.41,580.31 L1183.90,580.37 L1182.40,580.48 L1180.89,580.59 L1179.39,580.66 L1177.88,580.69 L1176.38,580.70 L1174.88,580.73 L1173.37,580.80 L1171.87,580.95 L1170.36,581.16 L1168.86,581.39 L1167.36,581.60 L1165.85,581.71 L1164.35,581.68 L1162.84,581.51 L1161.34,581.22 L1159.84,580.88 L1158.33,580.54 L1156.83,580.30 L1155.32,580.17 L1153.82,580.19 L1152.32,580.31 L1150.81,580.48 L1149.31,580.72 L1147.80,580.86 L1146.30,580.90 L1146.07,579.38 L1145.98,577.85 L1146.08,576.32 L1146.24,574.80 L1146.34,573.27 L1146.38,571.75 L1146.40,570.23 L1146.44,568.70 L1146.53,567.17 L1146.66,565.65 L1146.81,564.12 L1146.93,562.60 L1146.97,561.07 L1146.89,559.55 L1146.67,558.02 L1146.36,556.50 L1146.01,554.97 L1145.70,553.45 L1145.50,551.92 L1145.45,550.40 L1145.55,548.88 L1145.89,547.35 L1146.20,545.82 Z" fill="#f2cceb" stroke="#111" stroke-width="2.4" stroke-linejoin="round"/>
<text x="1162.82" y="569.10" font-family="Liberation Sans" font-weight="normal" font-size="22.24" fill="#000" textLength="93.10" lengthAdjust="spacingAndGlyphs"  stroke="#000" stroke-width="0.4">SFT Data</text>
</svg>
</body></html>
